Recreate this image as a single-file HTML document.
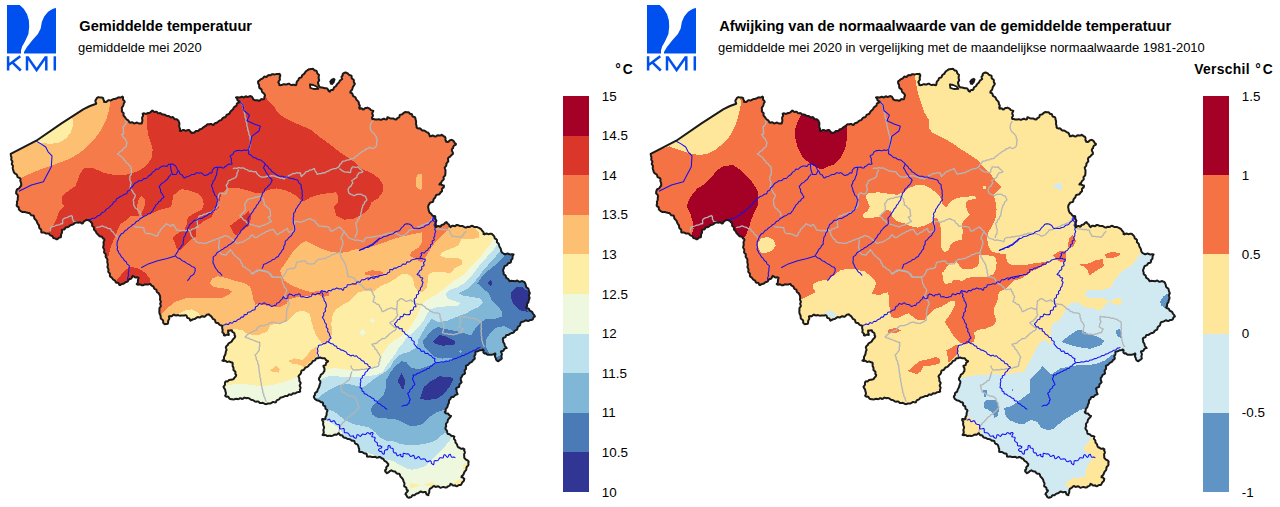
<!DOCTYPE html>
<html><head><meta charset="utf-8"><title>KMI</title>
<style>
html,body{margin:0;padding:0;background:#fff;}
body{width:1280px;height:507px;overflow:hidden;font-family:"Liberation Sans",sans-serif;}
svg{display:block;font-family:"Liberation Sans",sans-serif;}
text{fill:#000;}
</style></head><body>
<svg width="1280" height="507" viewBox="0 0 1280 507">
<defs>
<polygon id="ol" points="10.7,153.8 36.3,140.7 61.5,123.4 83.6,109.2 90,106 96.2,103.7 96,102.7 95.5,101.8 95.4,100.7 95.7,100 96.4,99.2 96.8,98.1 97.6,97.5 98.6,97.1 99.5,97.4 100.5,97.5 101.5,97.5 102.4,97.8 103.2,98.1 103.2,99.2 103.7,100.1 104.3,101 104,101.8 105,102 106,102.1 106.8,101.6 107.5,100.9 108.3,100.3 109.2,100.3 110.2,100.4 111.1,100.3 111.9,99.8 112.7,99.4 113.5,99.1 114.4,98.9 115.3,98.8 116.2,98.6 117,98.2 117.8,97.7 118.7,97.3 119.6,97.4 120.6,97.6 121.4,97.2 122.5,96.5 123.1,97.3 123,98.5 123,99.5 123.7,100.3 124.5,101.1 124.7,102.2 124.1,102.9 123.7,103.8 123.5,104.8 123.2,105.7 122.7,106.5 122,107.3 121.8,108.3 121.9,109.1 122.1,110 121.8,111.1 122.1,112 123.1,112.6 123.7,113.4 123.5,114.5 123.5,115.5 124.2,116.3 124.8,116.9 125.4,117.7 125.9,118.6 126.6,119.3 127.4,119.8 128.2,120.4 128.8,121.2 129.2,122.1 130.1,122.8 131,122.5 132,122.2 132.9,122.6 133.7,123.3 134.6,123.4 135.6,123 136.5,122.6 137.4,122.8 138.3,123.2 139.2,123.5 140.2,123.4 141.1,123.3 141.8,123.4 142,122.4 142.2,121.5 142.4,120.6 142.3,119.6 142.1,118.6 142.1,117.7 142.5,116.8 143.1,115.8 143,114.9 142.7,113.7 143.6,113.3 144.5,113.5 145.5,113.9 146.4,113.8 147.3,113.3 148.2,113 149,113 149.9,112.6 150.7,112.1 151.4,111.3 152.3,110.6 153.1,111 153.9,111.7 154.8,111.9 155.8,111.7 156.8,111.8 157.5,112.6 158.2,113.3 159.3,113.2 160.3,113 161.2,113.5 161.9,114.3 162.8,114.5 163.8,114.5 164.7,114.7 165.5,115.2 166.3,115.7 167.3,115.9 168.2,115.9 169.1,116.2 169.9,116.8 170.7,117.4 171.7,117.3 172.8,117.1 173.6,117.7 174.1,118.6 174.8,119.2 175.8,119.2 176.8,119.3 177.6,119.9 178.2,120.7 178.7,121 179,122 179.3,122.9 179.4,123.8 179.3,124.8 179.2,125.8 179.3,126.7 179.6,127.6 180,128.6 180,129.5 179.8,130.8 180.8,131 181.7,130.6 182.7,130 183.7,129.9 184.7,130.4 185.6,130.7 186.6,130.5 187.6,130.1 188.5,130 189.5,130.2 190,131.1 190.5,131.8 191.3,132.5 191.7,133.1 192.6,132.8 193.7,132.8 194.6,132.4 195.2,131.5 195.9,130.9 197,131 198.1,131.1 198.8,130.3 199.5,129.5 200.3,129.2 201.4,129 202.2,128.5 202.8,127.7 203.6,127.1 204.4,126.7 205.3,126.2 206.1,125.6 206.7,124.8 207.5,124.3 208.3,124.2 209.3,124.4 210.3,124 211.3,123.9 212.2,124.6 213.4,125.1 214,124.4 214.5,123.5 215.3,123 216.3,122.9 217.2,122.5 217.9,121.9 218.6,121.2 219.3,120.7 220.2,120.4 221.1,120.1 221.8,119.5 222.3,118.6 222.9,117.9 223.8,117.5 224.8,117.3 225.6,116.9 226.1,115.9 226.5,115 227.2,114.4 228.2,114.2 229.2,113.8 229.7,113.1 230.1,112.2 230.6,111.4 231.2,110.8 231.9,110.2 232.6,109.5 233.2,108.8 233.6,108 234.1,107.2 234.8,106.6 235.8,106.2 236.4,105.5 236.7,104.5 236.9,103.5 237.7,103 238.7,102.7 239.5,101.5 238.4,101 237.6,100.3 237.2,99.2 236.8,98.2 236,97.5 236.9,97.3 237.8,97.2 238.8,97.4 239.7,97.5 240.6,97.1 241.6,96.7 242.5,96.9 243.5,97.4 244.4,97.2 245.3,96.4 246.2,96.3 247.2,96.9 248.1,97 249,96.5 249.9,96.1 250.9,96.3 251.7,96.4 252.2,97.4 252.9,98.3 253.3,99.3 254.2,99.9 255.2,100.3 256.4,100.2 257.2,100.3 258.2,100.5 259.2,100.8 260.1,100.3 260.8,99.5 261.7,99.1 262.7,99.2 263.9,99.2 264.2,98.3 264.4,97.3 264.6,96.3 265.1,95.6 264.7,94.7 264.2,93.8 263.5,93.1 262.7,92.5 262.1,91.8 261.8,90.8 261.6,89.8 261.1,89 260.1,88.5 259.4,87.9 259.1,86.9 259.2,86 259.1,85 258.6,84.1 258.1,83.2 258.1,82.3 258.1,81.4 259,80.9 259.7,80.2 260.4,79.5 261.2,79 262.1,78.7 263,78.2 263.6,77.3 264.3,76.6 265.3,76.7 266.4,76.9 267.2,76.4 267.9,75.4 268.7,75.1 269.8,75.3 270.7,75.2 271.5,74.5 272.4,74.2 273.3,74.3 274.2,74.4 275.1,74.4 276.1,74.1 276.9,73.9 277.9,74 278.8,74.3 279.5,73.9 280.3,75 280.2,76.2 279.7,77.2 279.7,78.3 279.9,79.4 279.6,80.3 278.8,81.1 278.3,82.2 278.9,83.1 279.3,84.1 279.4,85.1 280.4,85.2 281.4,85.1 282.4,84.7 283.3,84.3 284.3,84.2 285.4,84.5 286.4,84.6 287.3,84.1 288.3,83.7 289.3,83.8 290.2,84.5 291.1,85 292,84.9 293.1,84.7 294,84.7 294.9,85 296,85.2 296.4,84.3 296.5,83.3 296.6,82.3 297.1,81.4 297.7,80.7 298.4,80.1 298.7,79 299.1,78.1 300.1,77.7 301.2,77.5 301.8,76.7 302,75.6 302.5,74.8 303.4,74.4 304.2,73.9 304.7,73.1 305.1,72.3 305.7,71.6 306.4,71 307.1,70.5 308,69.9 308.8,69.2 309.9,69.2 310.8,69.1 311.9,69 312.9,68.8 313.8,69.6 314.5,70.5 315.4,70.4 316.4,70.9 316.9,71.7 317.1,72.7 317.5,73.6 318.2,74.2 319,75 318.9,75.9 318.7,76.8 318.6,77.8 318.7,78.7 319.1,79.6 319.1,80.5 318.6,81.4 318,82.3 318,83.3 318.5,84.3 318.3,84.8 318.9,85.7 319.4,86.7 320.2,87.2 321.2,87.5 322.1,87.5 323.1,87.7 323.9,88.1 324.8,88.3 325.8,88.3 326.8,88.3 327.6,89 328.2,90 328.7,91 329.9,91.6 330.3,90.6 331.2,90 332.3,90 333.4,89.5 333.7,88.6 333.9,87.6 334.6,87 335.4,86.5 336.1,85.9 336.6,85.1 337,84.3 337.6,83.6 338.4,83 339.2,82.2 339.6,81.2 340.1,80.3 341.1,79.8 342.2,79 341.8,78 341.5,76.9 342.1,76.1 342.8,75.2 342.6,74.4 343.1,73.5 343.9,73 344.9,72.8 345.5,72.5 346.4,72.8 347.2,73.2 348,73.7 348.7,74.4 349.4,75 350.3,75.3 351.4,75.6 351.7,76.7 351.6,77.9 352.2,78.8 353.3,79.4 353.9,80.3 353.8,81.6 354,82.7 354.8,83.5 354.6,84.5 354.1,85.3 353.4,86.1 352.9,87 352.6,87.9 352.4,88.9 352,89.8 351.4,90.6 350.6,91.3 350.3,92.6 351.3,93 352.2,93.4 352.6,94.3 352.8,95.4 353.3,96.2 354.2,96.6 355.1,97.1 355.7,97.9 356,98.8 356.5,99.7 357.2,100.4 357.9,101.1 358.5,101.9 358.9,102.8 358.8,103.8 359.2,104.6 359.8,105.5 359.7,106.4 359.2,107.4 359.6,108.8 360.9,108.3 361.9,108.5 363,109.5 363.9,109.2 364.7,108.4 365.6,108 366.7,107.9 367.5,107.6 368.5,108.1 369.4,108.5 370.2,109.3 370.9,110.1 371.9,110.4 373.3,111 372.9,112 372.2,113 372.3,114 372.9,115 372.9,116 372.2,117 372,118 372.3,119 373.4,118.9 374.4,119.2 375.4,119.5 376.4,119.6 377.5,119.5 378.4,119.3 379.3,119.3 380.2,119.7 381.1,119.8 382,119.5 382.9,119 383.8,118.7 384.7,119 385.6,119.5 386.9,119.3 387.4,117.2 388.3,117.4 389.2,117.9 390.1,118.2 391.1,118.4 392.1,118.4 393,118.4 394,118.8 394.9,119.3 395.8,119.5 396.7,119.3 397,118.3 398,117.8 399.1,117.4 399.5,116.5 399.7,115.2 400.5,114.7 401.6,114.6 402.5,114.2 403.1,113.5 403.8,112.8 404.7,112.3 405.5,112 406.4,112.2 407.5,112.2 408.5,112.3 409.3,112.9 409.8,113.7 410.9,114 411.9,114.3 412.2,115.3 412.6,116.4 413.4,116.8 414.6,117 415.2,117.7 415.5,118.6 415.5,119.6 415.9,120.5 416.1,121.5 416.1,122.5 416,123.5 416.1,124.4 416.4,125.4 416.7,126.3 416.5,127.2 417.2,128.1 418.1,128.4 419.2,128.3 420.3,128.4 421,129.1 421.7,130.1 422.6,130.5 423.6,130.5 424.7,130.7 425.5,131.3 426.4,132 427.3,132.5 428.3,132.8 429,133.8 429.4,134.9 429.9,136.3 430.8,136.3 431.7,135.9 432.6,135.5 433.5,135.7 434.4,136.3 435.3,136.5 436.2,136.2 437.1,135.5 438,135.3 439,135.5 439.9,135.5 440.8,135.2 441.8,134.8 442.6,135.3 443.3,135.9 444,136.5 444.9,136.8 445.4,137.6 445.6,138.6 445.4,139.6 445.6,140.6 446.5,141.3 446.3,141.8 447.5,142 448.6,141.8 449.2,140.9 450,140.2 451.1,140.1 451.8,139.8 452.6,140.3 453.4,140.9 454,141.7 454.5,142.6 455.1,143.3 456,144 455.5,144.9 454.5,145.4 453.6,146 453.2,147 453.1,148.2 452.3,148.7 451.9,149.7 451.8,150.6 452.3,151.5 452.8,152.3 452.9,153.2 452.8,154.2 451.9,154.7 451.1,155.4 450.5,156.2 449.7,156.9 448.8,157.4 448.2,158.2 448,159.2 448.2,160.2 448.3,161.2 447.8,162.1 447,162.8 446.4,163.6 446.4,164.8 446.2,165.9 445.5,166.7 444.7,167.6 444.9,168.5 445.2,169.4 445.5,170.3 445.5,171.2 445.4,172.2 445.5,173 445.3,174 445.3,175 444.9,175.8 444,176.5 443.5,177.3 443.7,178.4 443.7,179.4 442.9,180.2 442.2,180.7 441.6,181.7 441.1,182.8 440.2,183.4 439.4,184.4 440.3,184.5 441.3,184.6 442.2,185 443.1,185.6 443.9,185.6 443.9,186.7 443.6,187.6 442.6,188.2 441.9,189 442,190.1 442,191.2 441.2,191.9 440.3,192.6 440.1,193.4 439.3,194.2 438.3,194.6 437.2,194.7 436.1,195.1 435.7,196 435.5,196.9 435,197.8 434.3,198.5 433.6,199.2 433.4,200.1 433.3,201.2 432.6,202 431.5,202.3 430.4,202.5 429.7,203.2 429.2,204.2 428.7,204.7 428.5,205.6 428.2,206.5 428.2,207.5 428.4,208.4 428.6,209.3 428.6,210.1 429,211 429.3,212 429.8,212.8 430.7,213.4 431.2,213.9 431.9,214.8 432.6,215.8 433.8,215.9 435.2,216.2 435.3,217.3 435.2,218.5 435.7,219.5 436.4,220.5 436.2,221.4 435.9,222.3 435.7,223.2 435.8,224.1 435.9,225 435.6,225.9 435.4,227.1 436.4,227 437.2,226.3 438.1,225.9 439.1,226.3 440.1,226.7 441,226.1 441.4,225.1 442.4,224.7 443.4,224.6 444.2,224 444.8,223.1 445.6,222.5 446.5,222.1 447,223 447.8,223.7 448.6,224.3 449.2,225.1 449.6,226.2 450.5,227.2 451.3,226.5 452.1,225.8 453,225.8 454.1,226.1 455,226.2 455.8,225.6 456.7,224.9 457.7,225 458.5,225.4 459.4,225.8 460.3,225.9 461.3,225.9 462.3,225.9 463.2,226.3 464.1,226.9 465.1,227.5 466.2,227.6 467,226.9 468,226.7 469.1,226.9 470.1,226.8 470.9,226.1 472,225.8 472.9,226.1 473.8,226.8 474.8,227.1 475.8,227 476.9,227 477.8,227.4 478.7,227.7 479.5,228.3 480.5,228.7 481.3,229.3 481.8,230.3 482.3,230.9 483.2,231.8 483.7,232.7 483.5,234.1 484.5,234.4 485.4,233.9 486.4,233.5 487.4,233.8 488.3,234.2 489.3,234 490.3,233.8 491.2,233.8 492.1,234 492.6,234.8 493.4,235.4 494.1,236.1 494.5,237 494.6,238.1 495.3,238.8 496.4,239.2 497,240.1 496.9,241.3 497,242.3 497.9,243 498.7,243.8 499,244.7 499.2,245.7 499.5,246.7 500,247.5 500.5,248.3 500.9,249.2 501.1,250.1 501.2,251.1 501.6,251.9 502.3,252.7 502.5,253.1 503.4,253.4 504.3,254 505.2,254.3 506.1,254.1 507.1,253.6 508,253.6 508.9,254 509.8,254.4 510.7,254.4 511.7,254.2 512.6,254.2 513.6,254.4 513.1,255.3 512.7,256.1 512.5,257 512.6,258.1 512.3,258.9 511.5,259.7 510.9,260.4 511.1,261.4 510.6,262.5 509.7,262.9 508.5,263 507.8,263.7 507.3,264.7 506.5,265.4 505.5,265.7 504.7,266.2 504.1,267 504,267.9 503.6,268.8 503.2,269.6 503.1,270.6 503.2,271.4 503.7,272.4 503.6,273.7 504.1,274.6 505.2,275.2 505.8,275.9 505.9,277 506.3,277.9 507.2,278.3 508,278.8 508.6,279.5 509,280.4 509.6,281.2 510.6,281 511.6,280.8 512.6,280.9 513.7,281.1 514.7,281.3 515.7,281 516.8,280.6 517.7,280.8 518.6,281.5 519.6,281.8 520.6,281.5 521.7,281.1 522.7,281.3 523.6,281.8 524.4,281.9 524.8,282.8 525.3,283.7 525.7,284.6 525.9,285.6 526,286.7 526.7,287.5 527.6,288.1 528.4,288.7 528.7,289.7 528.8,290.5 528.9,291.5 529.6,292.4 529.8,293.4 529.3,294.4 528.9,295.3 529.1,296.3 529.5,297.3 529.5,298.2 529.2,299.2 528.8,300 528.6,300.9 528.5,301.9 528,302.8 527.3,303.5 527,304.4 527.1,305.4 527,306.4 526.1,307.2 526.5,308.1 527.5,308.4 528.6,308.6 529.2,309.4 529.5,310.4 530.2,311 531.2,311.3 532,311.8 532.5,312.6 532.9,313.5 533.4,314.2 534,314.9 534.6,315.6 534.9,316.5 534,316.9 533.4,317.6 533.1,318.7 532.6,319.5 531.6,319.9 530.9,320 530,320.1 529,320.7 528.1,320.9 527.1,320.7 526.1,320.3 525.2,320.6 524.3,321.1 523.4,321.5 522.5,321.8 521.4,322 520.8,322.7 520.4,323.5 520.2,324.5 519.9,325.4 519.1,326.1 518.2,326.6 517.6,327.3 517.5,328.4 517.2,329.4 516.5,329.9 515.5,330.3 514.7,330.8 514.2,331.6 513.7,332.4 512.8,332.9 511.8,333.1 510.9,333.3 510,333.8 509.2,334.5 508.4,334.9 507.3,334.9 506.2,335.2 505.9,336.2 505.5,337.2 504.6,337.6 503.5,337.8 502.9,338.5 502.8,339.3 503.2,340.2 503.1,341.2 503.3,342.2 503.9,343 504.4,343.8 504.6,344.8 504.8,345.8 505.7,346.8 506.6,348.1 505.5,348.4 504.5,348.7 503.9,349.7 503.4,350.7 502.4,351 501,351.5 501.2,352.5 501.8,353.5 501.9,354.5 501.6,355.5 501.4,356.5 501.6,357.5 501.8,358.6 501,359.3 500.1,359.9 499.1,360.4 498.6,361.2 497.5,361 496.7,360.5 496.2,359.6 495.9,359 495.8,358 495.1,356.9 494.9,355.9 495.4,354.8 495.3,353.5 494.4,353.8 493.6,354.3 492.6,354.6 491.7,354.7 490.7,354.7 489.9,354.8 488.9,354.8 487.9,354.8 487,354.4 486.2,353.7 485.4,353.2 484.2,353.4 483.4,352.6 483.4,351.5 483.6,350.3 482.7,349.4 481.9,350.1 481,350.3 480,350.2 479.1,350.5 478.3,351 477.4,351.4 476.5,351.5 475.4,351.8 475.3,352.8 475.5,353.8 475.3,354.8 474.5,355.7 474.3,356.7 474.8,357.8 474.7,358.8 474,359.5 473.1,359.9 472.6,360.8 472.1,361.7 471.3,362.1 470.4,362.5 469.7,363 469.1,363.7 468.4,364.4 467.7,365 466.9,365.4 465.9,365.9 465.9,366.9 466.1,367.8 466,368.8 465.4,369.6 464.7,370.3 464.6,371.2 464.9,372.2 465,373.4 464.1,374.1 463.1,374.6 462.4,375.3 462,376.3 461.5,377.2 460.8,377.9 460.8,378.9 460.8,380 461.1,381 461.6,382.1 461,383 460.1,383.7 459.4,384.5 459.3,385.6 459.1,386.9 458.3,387.3 457.2,387.5 456.4,388.1 456,389 456.6,389.9 456.6,391 456.7,392.1 457.1,393 457.6,394.1 456.7,394.6 455.7,394.9 454.9,395.3 454.2,396.2 453.6,396.9 452.5,397 451.4,397.1 450.8,398 450.5,398.8 449.9,399.6 449.1,400.3 448.9,401.2 449,402.2 448.8,403.1 448.3,403.9 447.9,404.8 447.7,405.7 447.5,406.7 447.1,407.6 446.3,408.3 445.7,409.2 445.7,410.2 445.6,411.3 444.8,411.9 445.2,412.9 446.1,413.4 447.1,413.4 448.1,413.6 448.7,414.4 449.3,415.2 450.1,415.7 451,416 450.5,416.9 449.9,417.6 449.2,418.3 448.5,419 448,419.8 447.7,420.8 447.6,421.8 447,422.6 446.2,423.4 445.9,424.3 446.1,425.5 446.2,426.5 445.6,427.2 445.4,428.3 445.7,429.2 446.4,430 446.9,430.8 447.2,431.8 447.3,432.7 447.6,433.7 448.6,434.1 449.6,434.3 450.4,434.9 451.2,435.7 452.1,436.1 453.2,436 454.4,436.7 453.9,437.9 454,439 454.9,439.9 455.4,440.7 455.4,441.7 455.6,442.7 456.3,443.4 456.9,444.1 457.2,445 457.4,446 457.9,446.8 458.4,447.5 459.4,447.6 460.2,448.2 461,448.8 462,448.8 463,448.5 463.9,448.9 464.4,449.5 464.1,450.4 464.6,451.3 464.9,452.3 464.7,453.2 464.2,454 464.1,454.9 464.2,455.9 464.3,456.8 464.2,457.6 464.8,458.4 465.4,459.1 466.1,459.7 467.1,460.1 467.9,460.6 468.5,461.4 468.7,461.9 468.3,462.8 468.4,463.8 468.5,464.8 468.1,465.6 467.4,466.3 466.7,467 466.4,467.9 466.4,468.9 466.2,469.8 465.6,470.6 464.9,471.3 464.4,472.1 464,473 463.7,474 463.3,474.8 462.5,475.5 461.7,476.1 461.5,477.3 462.6,477.3 463.4,477.8 463.8,478.8 464.3,478.8 464.1,479.9 463.9,480.9 463.2,481.6 462.4,482.2 461.9,483.1 461.5,484 460.9,484.9 459.9,485 458.9,485.1 457.9,485.6 457,486.2 455.9,486.1 455.1,485.3 453.9,485.4 452.7,485.5 451.9,484.5 450.6,483.8 450.1,484.8 449.6,485.7 448.7,486.1 447.7,486.5 447.1,487.2 446.2,487.4 445.3,487.5 444.4,487.3 443.5,487.1 442.6,487.1 441.7,487.4 440.7,487.7 439.8,487.4 439,486.7 438.1,486.3 437.2,486.5 436.1,486.9 435.2,486.7 434.4,486.1 433.3,486.3 432.6,486.9 431.8,487.7 431,488.3 430,488.6 429.6,489.6 429.3,490.5 429.3,491.6 429.2,492.6 428.8,493.6 428,494.4 428.4,495.2 427.4,494.8 426.4,494.3 426.1,493.3 425.7,492 424.6,491.9 423.6,492.3 422.6,492.3 421.6,491.8 420.5,491.5 419.7,492.1 418.9,492.8 417.9,493.2 416.9,493.4 416,493.8 415.3,494.6 414.5,495.3 413.4,495.2 412.4,495.3 411.8,496.1 411.3,497.1 410.4,497.4 409.3,497.3 408.9,497.8 407.8,497.4 407.1,496.7 406.7,495.8 406.2,494.9 405.4,494.3 405.8,493.4 406.3,492.7 407,492.1 407.6,491.4 407.9,490.5 406.9,490 406.5,489.1 406.4,487.9 405.8,487.2 404.6,486.7 404.1,485.9 404.3,484.9 404.5,483.9 404.4,483 403.9,482.2 403.5,481.3 403.4,480.5 403,479.6 402.5,478.7 401.9,478 401.2,477.3 400.5,476.6 400.1,475.7 399.9,474.7 399.3,473.7 398.2,473.7 397.2,473.7 396.4,473.2 395.8,472.2 395.1,471.6 394.1,471.4 393.1,471.3 392.2,470.9 391.5,470.3 390.6,470.7 389.8,471.2 389.1,471.9 388.3,472.5 387.3,472.9 386.8,473.3 386.1,472.3 385.2,471.5 385.1,470.2 386.1,469.6 386.3,468.6 386.2,467.4 386.8,466.6 387.7,465.9 388.2,465 388.3,464.1 387.6,463.5 387,462.7 386.4,461.9 385.5,461.4 384.6,460.9 384,460.1 383.6,459.2 382.8,458.6 381.7,458.4 381.2,457.9 380.1,457.1 379,457 377.9,457.6 376.8,457.7 375.9,457.1 374.9,456.8 373.9,457 373,457.1 372,457 371.1,456.8 370.2,456.6 369.2,456.6 368.2,456.8 367,456.6 366.9,455.4 366.7,454.1 365.7,453.4 364.7,453.6 363.8,453.2 363,452.5 362.2,452 361.2,452 360.3,452.1 359.1,451.8 359.2,450.9 359.2,449.9 359.2,449 358.9,448.1 358.6,447.2 358.4,446.4 358,445.4 357.5,444.5 356.7,444 355.6,443.7 354.9,443.1 354.6,441.9 354.2,441 353.1,440.6 352.1,440.8 351.3,440.3 350.5,439.6 349.7,439.2 348.8,439.1 347.8,439 347,438.6 346.2,438.1 345.3,437.8 344.3,437.7 343.4,437.3 342.9,436.4 342.3,435.5 341.3,435.3 340.2,435.2 339.6,434.3 338.8,433.2 337.9,433.6 337.2,434.4 336.4,434.7 335.4,434.6 334.4,434.7 333.6,435.1 332.8,435.6 331.9,435.9 331,435.9 330,435.7 329,435.8 328,436 327,435.9 326.1,435.2 325.1,434.9 324.1,435.3 322.6,435.1 322.9,434.2 323.6,433.2 323.8,432.3 323.6,431.3 323.4,430.2 323.5,429.3 323.9,428.3 324.1,427.3 323.8,426.3 323.4,425.4 323.1,424.4 323.1,423.4 323.3,422.3 323,421.3 322.2,420.4 322.2,418.9 323.4,419.1 324.6,419.4 325.6,418.6 325.4,417.6 325.7,416.6 326.3,415.7 326.6,414.7 326.6,413.7 326.7,412.7 327,411.8 327.5,410.7 327,409.9 326.2,409.3 325.5,408.7 325.3,407.7 325.3,406.7 324.7,406 323.6,405.6 323.1,404.9 323.1,403.8 322.9,402.8 322,402.2 321,402.2 320.2,401.6 319.4,401 318.4,400.6 317.4,400.5 316.5,400.1 315.7,399.5 315.1,399.1 314.4,398.1 313.8,397 314.1,395.9 314.9,395.3 314.9,394.2 315,393.2 315.7,392.5 316.7,392 317.3,391.3 317.5,390.3 317.8,389.4 318.2,388.6 318.7,387.8 319.1,387 319.4,386.2 319.6,385.3 319.7,384.4 320.1,383.6 320.3,382.7 320.4,381.7 320,380.9 319.3,380.1 318.9,379.2 319.1,378.2 319.4,377.5 320.1,376.9 320.4,375.9 320.7,375 321.4,374.3 322.2,373.8 322.9,373.2 323.4,372.5 323.9,371.6 324.4,371 324.4,370.1 324.5,369.1 324.4,368.1 323.8,367.3 323.4,366 324.5,365.5 325.6,365.1 325.9,363.9 326.1,362.8 327,362.2 328.1,361.2 327.1,360.7 326,360.1 325.4,359.2 324.6,358.2 323.7,358.2 322.8,358.3 321.9,358.2 321,357.8 320.1,357.5 319.2,357.8 318.6,358 317.6,358.3 316.5,358.3 315.7,358.9 315.3,360 314.6,360.6 313.6,360.8 312.7,361.2 312.2,362.1 311.7,362.9 311,363.6 310.1,364.1 309.4,364.7 308.8,365.5 308.1,366.2 307.4,366.9 306.4,367.2 305.4,367.5 304.8,368.3 304.3,369.3 303.6,370 302.5,370.2 301.6,370.7 301.2,371.6 301.1,372.6 300.8,373.5 300.2,374.2 299.5,374.9 298.9,375.6 298.5,376.5 298.9,377.4 299.2,378.2 299.4,379.2 299.3,380.2 299.4,381.1 300,381.9 300.7,382.8 300.5,383.8 299.9,384.7 299.7,385.7 300.2,386.7 300.6,387.6 300.4,388.6 299.9,389.6 300,390.5 300.2,391.6 299.3,391.9 298.3,392.1 297.3,392.2 296.4,392.6 295.6,393.2 294.6,393.4 293.6,393.2 292.6,393.5 291.9,394.4 291,394.9 289.8,394.5 288.9,394.5 288.2,395.2 287.4,395.9 286.5,396 285.5,395.9 284.6,396.2 283.9,396.7 283,397.1 282.1,397.3 281.2,397.4 280.3,397.7 279.7,398.6 279,399.4 278,399.8 277,400.1 276.4,401 275.8,402.3 274.8,402.4 273.8,402.1 272.7,402 271.9,402.6 271,403.2 270.1,403.4 269,403.4 268.1,403.5 267.1,403.8 266.2,404.2 265.2,404.1 264.4,403.7 263.5,403.2 262.7,402.8 261.7,402.9 260.6,403.1 259.7,402.9 259,402.1 258.2,401.4 257.2,401.4 256.2,401.7 255.2,401.6 254.4,401.1 253.6,400.4 252.7,400.1 251.7,399.9 250.8,399.6 250,399 249.2,398.4 248.2,398.1 247.3,398 246.4,398.3 245.5,397.9 244.5,397.6 243.7,398.1 242.9,398.8 241.9,398.9 241,398.3 240,398.2 239.1,398.8 238.2,399.2 237.2,398.9 236.2,398.8 235.3,399 234.4,399.3 233.4,399.4 232.4,399.2 231.6,399.2 230.7,399 229.7,398.8 229.1,398.1 228.6,397.1 227.8,396.6 226.7,396.7 225.7,396.4 225.1,395.5 225.9,394.5 225.9,393.4 225.8,392.4 225.4,391.4 225.3,390.4 225,389.5 224.5,388.6 223.9,387.8 223.5,386.7 224.2,385.9 224.8,385.1 225,384.1 224.9,383 225.2,382 226,381.3 227,381.5 227.9,381.2 228.6,380.4 229.4,379.9 230.3,379.7 231.3,379.8 232.2,379.6 233.1,379.3 233.8,378.9 234.2,378 234.8,377.3 235.5,376.7 236,375.9 236.2,375 235.5,374.3 235.3,373.3 235.5,372.2 235.1,371.3 234.1,370.7 233.4,369.9 233.5,368.8 233.5,367.8 233.1,366.9 232.6,366.1 232.6,365.1 232.7,364.1 232.6,363.2 232.3,362.4 231.3,362.4 230.4,362 229.5,361.6 228.6,361.6 227.5,361.9 226.6,361.7 225.8,360.9 224.9,360.6 223.8,361.1 222.4,360.6 223.2,359.9 223.9,359.2 224,358.3 224,357.3 224.2,356.4 224.8,355.6 225.2,354.8 225.5,353.9 225.6,352.9 225.8,352.1 226,351.1 226.5,350.2 226.5,349.3 226.1,348.3 225.8,347.4 226.2,346.4 226.7,345.8 227.6,345.2 228.1,344.2 228.6,343.3 229.5,342.8 230.5,342.4 231.3,341.8 232,341 232.5,340.1 233.1,339.2 233.8,338.5 234.6,337.8 235,336.9 235.2,336.2 234.6,335.4 234.6,334.4 234.4,333.4 233.8,332.7 232.8,332.2 232.1,331.5 232,330.5 231,330.2 230,330.4 229,330.7 228.1,330.5 228.1,331.6 228.2,332.6 228.7,333.6 228.8,334.9 227.8,334.7 226.8,334.5 225.9,335 225,335.6 223.9,335.2 224.1,334 223.3,333.1 222.4,332.2 222.5,331 222.7,330 222.4,329 222.1,328 222.2,327 222.3,325.9 221.5,325.4 220.6,325.2 219.7,324.9 219,324.2 218.4,323.4 217.7,322.9 216.6,322.9 215.7,322.5 215.3,321.6 215.2,320.5 214.7,319.7 213.8,319.3 212.9,318.9 212.4,318.2 212,317.3 211.3,316.4 210.4,315.7 209.5,315.1 208.9,314.3 207.8,314.6 206.8,314.8 206,315.5 205.2,316.4 204.1,316.9 203.2,316.4 202.2,316.2 201.4,316.5 200.5,317.2 199.7,317.5 198.7,317.3 197.7,317.1 196.8,317.5 196,318.1 195.2,318.7 194.3,319 193.3,319.2 192.4,319.5 191.6,320.2 190.5,320.7 190,319.9 189.6,318.8 188.8,318.2 187.7,318 187,317.4 186.8,316.2 186.2,315.4 185.2,315.1 184.2,315.6 183.1,315.4 182,315.5 181,315.6 180,315.7 179,315.4 178.1,315.1 177.1,315.2 176.1,315.5 175.1,315.3 174,314.6 173.1,314.9 172.3,315.9 171.4,316.4 170.3,316.1 168.9,316.4 169.1,317.4 169.3,318.3 169.1,319.2 168.6,320 168.2,320.9 168.1,321.8 168.1,322.7 167.8,323.8 166.8,323.9 165.7,323.9 164.9,324.3 164.1,323.7 163.4,323.1 163.1,322.2 163.2,321.1 162.9,320.2 162.2,319.6 161.3,319 160.8,318.3 160.6,317.3 160.7,316.4 160.5,315.4 160,314.6 159.6,313.7 159.4,312.8 159.4,311.9 159.3,311.1 159.5,310.1 159.4,309.1 159.4,308.2 159.9,307.4 160.7,306.6 160.8,305.7 160.5,304.7 160.1,303.8 160.5,302.8 160.9,301.8 160.6,300.9 160.1,300 160,299 160.2,298 160.2,297.1 160,296.1 159.8,295.3 159.2,294.4 158.9,293.5 158.2,292.8 157.2,292.3 156.6,291.4 156.6,290.2 155.9,289.4 154.8,289.1 154.1,288.4 153.8,287.4 153.4,286.5 152.5,286.1 151.6,285.7 151,285 150.5,284.1 149.5,284.1 148.6,284.4 147.7,284.6 146.7,284.6 145.7,284.4 144.8,284.3 143.8,284.8 142.9,285.3 142,285.3 141.1,284.8 140.1,284.3 139.1,284.5 138,284.8 136.8,284.1 137.4,283.3 137.8,282.5 137.9,281.5 137.9,280.6 138,279.7 138.3,278.8 138.6,277.8 137.8,277.4 136.8,277.3 135.8,277.4 134.8,277.2 134,276.6 132.8,275.9 132.2,276.6 131.8,277.7 131.3,278.5 130.4,278.9 129.4,279.1 128.7,279.8 128.2,280.6 127.7,281.4 126.8,281.9 125.8,282.1 125,282.6 124.2,283.3 123.3,283.8 122.2,284 121.2,284.2 120.4,285.1 119.4,284.9 118.9,284 118.5,283 117.5,282.7 116.4,282.7 115.6,282 115.3,281 114.7,280.3 113.7,279.9 113,279.3 112.4,278.5 111.9,277.7 111.1,277.1 110.2,276.6 109.9,275.7 109.9,274.7 109.9,273.7 109.3,272.9 108.5,272.2 108.2,271.3 108.5,270.2 108.5,269.4 108.1,268.4 107.5,267.5 107.5,266.6 107.8,265.6 107.9,264.6 107.7,263.7 107.4,262.8 107.3,261.8 107.3,260.9 107.5,259.8 107.2,258.9 106.6,258.1 105.9,257.3 105.6,256.4 105.8,255.3 105.8,254.3 105.1,253.6 104.3,252.8 104,251.9 104.2,250.9 104.3,249.9 104,249 103.5,248.2 103.1,247.3 103.3,246.3 103.6,245.4 103.7,244.4 103.6,243.4 103.5,242.4 103.7,241.5 104.3,240.6 104.4,239.6 104,238.8 103,238.6 102.5,237.6 102,236.7 101.1,236.5 100,236.4 99.2,235.9 98.7,235.1 98,234.6 97.3,233.9 96.6,233.2 96.2,232.4 95.8,231.5 95.2,230.7 94.4,230.1 93.9,229.2 94,228.2 93.9,227.2 93,226.5 92.2,225.9 92.1,224.9 92.3,223.7 91.8,222.9 90.9,222.2 90.6,221.6 89.8,221 89,220.5 88.2,220.2 87.2,220.1 86.5,219.8 85.7,220.4 84.8,220.8 84,221.3 83.5,222.1 83,223 81.9,223.6 81.1,222.9 80.3,222.3 79.2,222.4 78.2,222.7 77.5,222.5 76.4,222.6 75.4,222.7 74.6,223.2 73.8,223.9 73,224.4 72.1,224.8 71.1,225 70.2,225.4 69.4,226 68.8,226.7 68,227.1 67,227.2 66,227.3 65.3,228 64.8,229 64.1,229.6 63.1,229.6 61.9,229.9 61.9,230.8 62.1,231.8 62,232.7 61.5,233.6 61.1,234.4 61,235.3 61,236.2 60.8,237.2 59.7,237.4 58.7,237.8 58,238.6 57.1,239.3 56.1,239.2 55.5,238.4 54.3,238.3 53.3,238 52.9,236.9 52.3,236 51.3,235.7 50.3,235.4 49.6,234.6 48.9,233.7 48,233.6 47.1,233.6 46.2,233.5 45.3,233.2 44.5,232.7 43.6,232.4 42.7,232.6 41.4,232.5 41.2,231.6 41.3,230.5 41.1,229.5 40.3,228.9 39.5,228.2 39.1,227.4 39.1,226.3 39,225.4 38.4,224.6 37.8,223.8 37.3,223 37,222.1 36.7,221.2 36.3,220.4 35.6,219.7 34.9,219 34.3,218.3 34.1,217.3 34,216.2 33.3,215.4 32.2,215.4 31.3,215.3 30.6,214.6 30.1,213.7 29.4,213.1 28.4,213 27.6,212.8 26.7,212.6 25.8,212.3 25,212 24.1,211.9 23.1,212 22.2,211.9 21.4,211.5 20.8,211.2 20.1,210.5 19.2,209.9 18.8,209 18.9,207.9 18.4,207 17.4,206.5 16.7,205.8 16.7,204.7 17.1,203.8 17,202.7 16.9,201.7 17.3,200.8 17.7,199.8 17.8,198.8 17.7,197.8 18,196.9 17.9,195.8 17.6,194.8 16.8,194.1 16.1,193.3 16.2,192.2 16.2,191.7 16.6,190.7 16.9,189.6 17.6,189 18.6,188.6 19.4,188 20,187.2 20.5,186.3 21.2,185.7 21.2,184.8 21.2,183.9 21.1,183 20.8,182.1 20.4,181.2 20.3,180.3 20.6,179.3 20.2,178.3 19.4,177.8 18.3,177.5 17.5,176.9 17.2,175.8 16.9,174.8 16.2,174.2 15.3,173.7 14.5,173.1 14,172.3 13.5,171.5 13.4,170.5 13.1,169.6 12.8,168.7 12.7,167.8 12.9,166.8 12.9,165.8 12.4,165 11.8,164.1 11.9,163.2 12.4,162.1 12.3,161.2 11.5,160.3 11.2,159.4 11.4,158.5 11.5,157.5 11.2,156.6 10.9,155.7 10.8,154.7"/>
<clipPath id="be"><use href="#ol"/></clipPath>
<g id="overlay">
<polyline points="125.4,119.4 125.51,120.42 125.84,121.39 126.32,122.34 126.1,123.32 125.32,123.98 125.04,125.06 124.47,125.9 123.54,126.43 122.84,127.32 123.19,128.19 123.35,129.08 123.33,130 123.35,130.91 123.54,131.8 123.8,132.69 123.83,133.7 122.59,133.82 121.44,134.45 122.34,135.03 122.88,135.89 123.15,136.97 123.78,137.76 124.75,138.31 125.32,139.03 125.58,139.95 125.87,140.84 126.42,141.58 127.07,142.31 126.91,143.3 126.59,144.25 126.29,145.2 126.17,146.17 125.62,146.96 124.98,147.65 124.14,148.14 123.33,148.67 122.83,149.5 122.39,150.45 121.53,150.95 120.48,151.2 119.7,151.81 119.16,152.72 118.42,153.37 117.46,153.86 118.19,154.51 119.08,154.95 119.91,155.46 120.63,156.14 121.35,156.81 122.2,157.3 122.98,157.97 123.46,158.88 123.89,159.82 124.78,160.4 125.62,161.01 125.92,162.08 126.49,162.94 127.53,163.32 128.31,163.97 128.75,164.96 129.47,165.68 130.37,166.21 131.08,166.99 131,168.01 131.11,169.01 131.35,169.99 131.41,170.99 131.26,172.01 131.38,172.95 131.33,174.09 130.82,175.05 130,175.88 129.79,176.96 129.81,177.91 129.91,178.97 129.87,180.07 130.3,181.03 130.83,181.96 131.09,183.02 130.73,183.99 130.51,184.98 130.44,186.01 130.34,187.03 130,188 130.43,188.93 131.11,189.67 131.99,190.26 132.61,191.04 132.87,192.08 133.21,192.98 133.97,193.62 134.74,194.25 135.13,195.12 135.38,195.93 134.91,196.72 134.64,197.61 134.28,198.46 133.77,199.22 133.21,200.01 133.33,200.91 133.6,201.79 133.81,202.68 133.74,203.6 133.61,204.53 133.91,205.41 134.31,206.09 134.9,206.9 135.28,207.92 136.1,208.5 137.1,208.9 137.67,209.73 138.15,210.65 138.96,211.24 139.8,211.8 140.42,212.6 140.5,213.62 140.8,214.6 141.04,215.59 141.2,216.6" fill="none" stroke="#b3b5b7" stroke-width="1.3" stroke-linejoin="round"/>
<polyline points="239.6,101.3 240.25,102.09 241.12,102.66 241.85,103.38 242.19,104.46 242.94,105.02 243.47,105.88 243.54,106.81 243.36,107.77 243.48,108.69 243.82,109.58 244.01,110.48 244.1,111.45 244.21,112.42 244.51,113.35 244.89,114.27 245.03,115.23 244.97,116.24 245.17,117.19 245.74,118.06 246.11,118.98 245.96,120.01 245.85,121 246.23,121.9 246.76,122.78 246.92,123.72 246.83,124.71 246.92,125.67 247.23,126.59 247.54,127.5 247.69,128.45 247.74,129.42 247.91,130.31 248.26,131.14 248.7,131.96 248.92,132.84 248.86,133.79 248.94,134.7 249.47,135.49 250.04,136.27 250.14,137.18 249.97,138.11 250.01,139.1 250.44,140.06 250.54,141.04 250.33,142.04 250.32,143.02 250.54,144.01 250.34,145.02 249.95,145.99 249.63,146.97 249.57,148.02 249.31,149.01 249,150" fill="none" stroke="#b3b5b7" stroke-width="1.3" stroke-linejoin="round"/>
<polyline points="232.8,168.6 233.74,168.51 234.64,168.17 235.58,168.11 236.57,168.43 237.49,168.2 238.4,167.69 239.34,167.72 240.28,168.01 241.22,168.05 242.16,167.87 243.15,167.8 244,168.34 244.85,168.89 245.78,169.26 246.77,169.52 247.65,170 248.41,170.74 249.37,171.25 250.31,171.01 251.24,170.88 252.11,171.23 252.97,171.71 253.87,171.83 254.81,171.63 255.88,171.65 256.39,172.54 256.88,173.44 257.56,174.19 258.31,174.88 258.94,175.61 259.9,176.29 260.9,176.9 261.98,177.17 262.92,176.9 263.93,177.06 264.93,177.15 265.84,176.67 266.76,176.16 267.69,176.27 268.63,176.53 269.52,176.34 270.38,175.9 271.28,175.76 272.21,175.87 273.06,175.82 274.05,176 275.01,176.24 275.91,176.69 276.81,177.11 277.82,177.24 278.75,177.32 279.58,177.82 280.43,178.28 281.41,178.17 282.39,178.11 283.2,178.68 284.29,179.18 284.89,178.38 285.51,177.61 286.43,177.28 287.34,176.92 288.04,176.26 288.75,175.6 289.75,175.22 290.77,174.88 291.68,174.33 292.57,173.71 293.6,173.4 294.53,173.53 295.42,173.29 296.27,172.81 297.17,172.67 298.12,172.95 299.04,173.05 299.84,172.63 300.56,173.47 300.79,174.51 300.94,175.59 301.57,176.57 302.12,175.78 302.77,175.08 303.52,174.49 304.27,173.9 304.91,173.19 305.44,172.38 306.13,171.62 307.1,171.5 308.07,171.37 308.87,170.83 309.6,170.11 310.49,169.78 311.53,169.81 312.46,169.59 313.22,168.94 314.3,168.49 314.61,169.37 314.88,170.26 315.35,171.04 315.92,171.77 316.4,172.55 316.74,173.41 317.23,174.34 318.19,173.99 319.13,173.59 320.17,173.62 321.21,173.7 322.13,173.15 323.06,172.67 324.13,172.9 325.24,172.87 325.94,172.03 326.8,171.49 327.85,171.33 328.76,170.89 329.56,170.23 330.47,169.79 331.42,169.48 332.32,169.26 333.18,168.88 334.07,168.63 335.03,168.65 335.95,168.55 336.78,168.02 337.45,167.71 338.35,167.14 339.18,166.51 339.48,165.49 339.85,164.51 340.68,163.88 341.48,163.24 341.95,162.34 342.46,161.37 343.4,161.17 344.35,161.05 345.28,160.82 346.16,160.45 347.04,160.06 347.98,159.89 348.97,159.87 349.89,159.64 350.72,159.06 351.58,158.59 352.57,158.6 353.69,158.64 354.36,158.01 354.85,157.15 355.49,156.48 356.35,156.08 357.19,155.67 357.87,155.04 358.49,154.34 359.18,153.74 359.96,153.25 360.75,152.76 361.43,152.16 362.12,151.51 362.89,151.01 363.83,150.79 364.71,150.47 365.33,149.72 365.96,148.98 366.89,148.75 367.88,148.62 368.58,147.99 369.37,147.17 370.29,147.58 371.15,148.16 372.13,148.37 373.03,148.51 373.88,147.97 374.76,147.48 375.52,146.82 376.15,146.18 376.37,145.29 376.74,144.43 376.75,143.51 376.5,142.57 376.68,141.68 377.24,140.83 377.35,139.82 376.57,139.03 376.24,138.09 376.31,137.02 375.98,136.08 375.42,135.28 374.74,134.62 374.19,133.82 373.56,133.11 372.81,132.52 372.06,131.93 371.44,131.2 370.97,130.47 370.78,129.52 370.3,128.61 370.05,127.66 370.26,126.64 370.31,125.85 370.48,124.77 370.64,123.68 371.32,122.85 371.91,121.97 372.3,121" fill="none" stroke="#b3b5b7" stroke-width="1.3" stroke-linejoin="round"/>
<polyline points="238.4,169.4 238.16,170.28 238.07,171.22 237.62,172.04 237.03,172.82 236.96,173.76 237,174.73 236.67,175.59 236.17,176.39 235.95,177.18 235.12,177.72 234.27,178.2 233.34,178.51 232.4,178.79 231.53,179.22 230.74,179.84 229.87,180.29 228.81,180.45 228.14,181.3 227.97,182.4 227.77,183.48 227.03,184.29 226.22,185.25 226.51,186.16 226.96,187.06 227.14,187.99 227.12,188.96 227.19,189.86 226.88,190.89 226.6,191.94 226.14,192.92 225.72,193.73 224.82,193.66 223.88,193.84 222.97,193.82 222.11,193.37 221.24,192.99 220.31,193.15 219.7,193.2 219.23,194.08 218.56,194.9 218.39,195.89 218.36,196.91 217.98,197.8 217.81,198.71 217.85,199.62 218.01,200.53 218.03,201.44 217.88,202.36 217.82,203.27 218.06,204.18 218.22,205.09 217.95,205.95 217.11,206.45 216.72,207.38 216.24,208.24 215.3,208.64 214.44,209.11 214.01,210.01 213.51,210.84 212.68,211.35 211.95,211.84 211.11,212.21 210.28,212.6 209.39,212.81 208.48,212.93 207.59,213.14 206.76,213.54 205.93,213.94 205.02,214.04 204.05,214.12 203.22,214.55 202.51,215.27 201.69,215.72 200.69,215.73 199.73,215.84 198.89,216.45 198.8,217.49 198.35,218.37 197.72,219.17 197.27,220.04 197,221 197.27,221.98 197.37,222.99 197.39,224.02 197.55,225.02 197.96,225.98 198.08,227.22 197.06,227.27 196.05,227.36 195.23,227.94 194.44,228.64 193.48,228.83 192.36,228.83 191.68,229.5 191.06,230.23 190.3,230.8" fill="none" stroke="#b3b5b7" stroke-width="1.3" stroke-linejoin="round"/>
<polyline points="245.5,210 245.28,209.03 245.07,208.06 245.29,207.02 245.2,206.03 244.72,205.1 244.55,204 245.24,203.33 245.84,202.6 246.28,201.77 246.69,200.92 247.21,200.14 247.82,199.46 248.74,199.34 249.61,198.96 250.44,198.49 251.35,198.3 252.34,198.42 253.28,198.35 254.11,197.83 254.92,197.27 255.85,197.14 256.84,197.26 257.76,197.12 258.6,196.67 259.46,196.28 260.45,196.15 260.99,196.89 261.61,197.55 262.33,198.11 263.05,198.67 263.67,199.39 263.58,200.49 263.81,201.54 264.35,202.54 264.36,203.62 264.18,204.95 264.98,205.42 265.95,205.7 266.61,206.34 267.04,207.23 267.71,207.85 268.58,208.24 269.31,208.79 269.87,209.5 269.91,210.41 270.13,211.3 270.36,212.19 270.37,213.1 270.31,214.02 270.53,214.91 270.83,215.99 269.96,216.42 268.93,216.62 268.2,217.48 269.2,217.97 269.65,218.9 269.98,219.93 270.82,220.56 271.61,221.5 270.75,221.8 269.86,222.07 269.1,222.55 268.39,223.13 267.62,223.6 266.78,223.94 265.96,224.27 265.1,224.66 264.28,225.18 263.39,225.45 262.4,225.44 261.47,225.62 260.69,226.24 259.9,226.83 258.86,226.94 258.09,226.31 257.22,226.02 256.25,226.04 255.33,225.93 254.49,225.54 253.66,225.11 252.79,224.83 251.87,224.68 250.97,224.5 249.8,224.06 248.71,223.56 247.85,223.06 246.91,222.66 246.2,221.97 245.69,221.03 244.93,220.41 243.87,220.13 243.1,219.51 242.7,218.54 242.13,217.72 241.25,217.22 240.46,216.62 239.9,215.8 240.67,215.19 241.28,214.44 241.88,213.67 242.62,213.04 243.44,212.49 244.04,211.71 244.62,210.93 245.5,210" fill="none" stroke="#b3b5b7" stroke-width="1.3" stroke-linejoin="round"/>
<polyline points="339.3,168.6 340.14,169.05 340.94,169.56 341.54,170.35 342.31,170.92 343.26,171.21 344.02,171.63 344.9,171.89 345.79,172.13 346.69,172.22 347.61,172.21 348.52,172.25 349.4,172.46 350.46,172.65 350.72,171.73 350.71,170.73 350.81,169.77 351.35,168.93 351.95,168.11 351.9,167.3 352.8,166.91 353.7,166.81 354.6,167.09 355.5,167.31 356.4,167.22 357.3,167.02 358.28,167.01 358.88,167.78 359.5,168.52 360.23,169.14 361.03,169.69 361.7,170.38 362.2,171.25 362.94,171.61 362.1,172.31 361.16,172.69 360.05,172.55 359.08,172.83 358.41,173.48 358.01,174.44 357.26,175.28 356.98,176.29 356.78,177.42 355.93,177.87 355.04,178.28 354.28,178.87 353.56,179.52 352.73,180.01 351.74,180.54 352.13,181.54 352.7,182.5 352.67,183.57 351.86,184.07 351.5,184.95 351.19,185.88 350.44,186.43 349.56,186.87 349.04,187.61 348.7,188.51 348.16,189.07 348.13,190.11 348.29,191.12 348.64,192.09 348.85,193.01 349.73,193.61 350.61,194.2 351.63,194.52 352.68,194.79 353.49,195.48 354.48,195.57 355.35,195.25 356.15,194.62 357.02,194.27 358,194.36 358.97,194.39 359.75,194.03 360.77,194.16 361.69,194.54 362.54,195.08 363.43,195.53 364.38,195.83 365.4,196.15 365.87,197.25 366.18,198.43 366.89,199.39 366.61,200.35 365.95,201.05 365.07,201.59 364.56,202.39 364.39,203.42 363.96,204.21 363.19,205.01 362.71,205.92 362.58,206.98 362.22,207.92 361.84,208.88 361.61,209.86 361.56,210.88 361.4,211.87 360.99,212.82 360.76,213.8 360.89,214.85 360.65,215.89 359.81,216.46 359.36,217.26 359.3,218.29 358.85,219.09 357.99,219.66 357.47,220.42 357.3,221.39 356.9,222.22 356.23,222.89 355.67,223.73 356.02,224.67 356.3,225.63 356.39,226.63 356.46,227.63 356.81,228.57 357.22,229.51 357.23,230.52 357.12,231.4 356.95,232.37 357,233.43 356.58,234.32 355.84,235.08 355.52,236.01 355.37,236.99 355,237.9" fill="none" stroke="#b3b5b7" stroke-width="1.3" stroke-linejoin="round"/>
<polyline points="50.5,231.5 50.4,230.53 50.43,229.55 50.71,228.57 50.56,227.74 51.43,227.1 52.41,226.7 53.44,226.45 54.43,226.09 55.28,225.74 56.12,225.36 57.01,225.14 57.95,225.1 58.86,224.96 59.67,224.48 60.46,223.92 61.36,223.74 62.48,223.73 62.78,222.79 62.59,221.78 62.5,220.77 62.86,219.85 63.16,219.06 64.01,218.67 64.81,218.16 65.67,217.78 66.59,217.55 67.49,217.31 68.33,216.89 69.13,216.37 70.02,216.08 71,216.02 71.6,215.55 72.27,216.41 72.54,217.37 72.31,218.46 72.58,219.42 73.28,220.27 73.33,221.13 74.26,221.69 75.29,221.76 76.31,221.86 77.3,222.1" fill="none" stroke="#b3b5b7" stroke-width="1.3" stroke-linejoin="round"/>
<polyline points="96.2,227.6 97.08,227.28 97.98,227.07 98.94,227.07 99.84,226.84 100.69,226.42 101.57,226.11 102.51,225.97 103.35,226.44 104.22,226.8 105.15,227.02 106.08,227.25 106.91,227.74 107.68,228.35 108.57,228.68 109.59,228.69 110.65,228.98 111,229.88 111.34,230.78 112.02,231.39 112.87,231.85 113.51,232.49 113.92,233.33 114.39,234.11 115.06,234.74 115.8,235.28 116.43,235.93 117,236.64 117.63,237.29 118.3,237.9" fill="none" stroke="#b3b5b7" stroke-width="1.3" stroke-linejoin="round"/>
<polyline points="134.1,226.8 135.05,226.79 135.98,226.9 136.91,227.18 137.85,227.25 138.8,227.16 139.75,227.17 140.68,227.33 141.61,227.54 142.55,227.63 143.57,227.58 143.98,228.46 144.06,229.43 144.03,230.43 144.38,231.32 145.05,232.12 145.14,232.79 145.99,233.28 146.86,233.64 147.79,233.54 148.72,233.36 149.62,233.53 150.49,233.86 151.35,234.01 152.33,234.28 153.27,234.6 154.14,235.12 155.01,235.63 155.99,235.87 156.7,236.19 157.35,235.52 158.05,234.87 158.29,233.96 158.39,232.98 159.01,232.29 159.83,231.71 160.16,230.86 160.26,229.88 160.78,229.08 161.69,228.62 162.35,227.9 162.89,227.07 163.6,226.4 164.4,225.82 165.08,225.13 165.63,224.31 166.46,223.6 167.11,224.29 167.85,224.81 168.8,224.98 169.68,225.26 170.31,226.01 171.52,225.77 172.37,224.8 173.7,224.29 173.86,225.25 174.24,226.1 174.86,226.8 175.44,227.54 175.84,228.37 176.18,229.23 176.69,230.1 177.6,230.1 178.52,230.08 179.41,230.24 180.28,230.6 181.17,230.83 182.1,230.69 182.96,230.49 183.87,230.46 184.82,230.74 185.74,230.78 186.61,230.39 187.47,229.99 188.38,229.95 189.22,230.03 189.49,230.95 189.96,231.8 190.39,232.66 190.65,233.59 190.85,234.53 191.18,235.43 191.68,236.22 192.39,236.87 192.82,237.77 193.32,238.6 194.21,239.07 195.08,239.56 195.48,240.49 195.87,241.42 196.72,241.93 197.43,242.34 198.38,242.65 199.33,242.98 200.32,242.92 201.31,242.88 202.28,243.09 203.24,243.31 204.22,243.31 205.14,243.25 206.1,243.06 207.09,242.94 207.9,242.37 208.69,241.73 209.7,241.67 210.72,241.67 211.51,241.03 212.3,240.36 213.31,240.27 214.33,240.2 215.18,239.68 216.02,239.15 216.96,238.89 217.93,238.68 218.79,238.32 219.61,237.85 220.45,237.45 221.38,237.24 222.31,237.07 223.13,236.62 223.88,235.97 224.74,235.61 225.64,235.61 226.51,236.28 227.65,236.41 228.72,236.67 229.55,237.41 230.36,238.06 231.15,238.57 231.96,239.05 232.67,239.65 233.29,240.36 233.93,241.04 234.67,241.61 235.48,242.09 236.21,242.67 236.82,243.47 237.77,243.44 238.61,243 239.42,242.42 240.35,242.29 241.36,242.48 242.27,242.3 243.04,241.71 243.75,241.09 244.68,240.83 245.56,240.5 246.27,239.88 246.98,239.26 247.8,238.84 248.66,238.46 249.46,237.94 249.9,237.03 250.52,236.24 251.36,235.62 251.73,234.79 252.77,235.11 253.41,235.91 253.92,236.89 254.9,237.28 255.53,237.63 256.48,237.38 257.41,237.11 258.08,236.43 258.76,235.76 259.61,235.36 260.48,234.99 261.24,234.44 261.96,233.82 262.86,233.38 263.86,233.13 264.76,232.7 265.52,231.97 266.4,231.48 267.48,231.41 268.4,231.09 269.22,230.36 270.12,229.85 271.19,229.87 272.22,229.77 273.06,229.23 273.79,229.89 274.29,230.72 274.72,231.6 275.25,232.4 275.89,233.12 276.55,233.84 276.96,234.64 277.85,234.36 278.68,233.97 279.34,233.31 279.99,232.61 280.84,232.26 281.83,232.15 282.67,231.77 283.27,230.94 283.94,230.21 284.86,229.89 285.81,229.6 286.56,229.01 287.39,228.37 287.76,229.34 287.99,230.37 288.34,231.36 288.79,232.21 289.71,232.03 290.68,232.13 291.63,232.13 292.52,231.67 293.42,231.32 294.47,231.5 294.75,230.57 294.38,229.65 294.08,228.72 294.38,227.79 294.65,226.86 294.43,225.94 294.24,225.01 294.36,224.08 294.51,223.15 294.44,222.23 294.41,221.2 295.42,221.37 296.41,221.69 297.44,221.69 298.49,221.51 299.48,221.83 300.45,222.31 301.51,222.13 302.23,221.4 303.19,221.22 304.21,221.18 305.03,220.69 305.77,220.01 306.64,219.63 307.59,219.43 308.48,219.1 309.3,218.6 310.3,218.88 311.23,219.33 312.13,219.87 313.1,220.22 314.24,220.38 314.88,221.02 315.24,221.9 315.61,222.78 316.31,223.37 317.2,223.8 317.86,224.42 318.22,225.31 318.78,226.25 319.74,226.21 320.71,226.05 321.66,226.11 322.6,226.34 323.54,226.51 324.5,226.51 325.46,226.45 326.41,226.54 327.34,226.85 328.13,226.91 328.9,227.53 329.59,228.2 329.83,229.16 330.08,230.13 330.83,230.75 331.24,231.23 332.13,230.93 333.1,230.75 333.84,230.2 334.49,229.5 335.3,229.06 336.18,228.74 336.97,228.29 337.69,227.69 338.45,227.18 339.26,226.84 339.85,227.59 340.7,228.08 341.49,228.64 341.92,229.56 342.43,230.38 343.39,230.76 344.27,231.3 344.53,232.35 344.97,233.27 345.86,233.85 346.57,234.58 346.96,235.53 347.49,236.38 348.22,237.09 348.84,237.8 349.7,238.23 350.55,238.68 351.48,238.94 352.46,239.05 353.36,239.38 354.14,240.03 355.1,240.5 356.05,240.15 357,239.85 357.95,240.08 358.82,240.44 359.79,240.72 360.86,240.72 361.84,240.99 362.73,241.5 363.81,241.84 364.1,240.83 364.35,239.81 364.77,238.85 365.22,238.03 366.12,237.95 366.99,237.6 367.86,237.28 368.79,237.35 369.74,237.61 370.63,237.47 371.47,236.94 372.4,236.63 373.41,236.83 374.39,236.88 375.3,236.48 376.22,236.13 377.19,236.1 378.17,236.09 379.11,235.86 380.03,235.56 380.98,235.44 381.92,235.36 382.79,235.09 383.58,234.54 384.45,234.23 385.44,234.35 386.35,234.17 387.1,233.47 387.93,233.07 388.89,233.22 389.86,233.47 390.89,233.18 391.88,233.21 392.84,233.59 393.83,233.71 394.83,233.64 395.82,233.71 396.77,233.96 397.67,234.4 398.67,234.61 399.62,234.93 400.42,235.62 401.28,236.15 402.24,236.2 402.9,235.53 403.85,235.32 404.81,235.13 405.51,234.52 406.06,233.78 406.69,233 407.54,232.39 408.23,231.65 408.75,230.77 409.38,229.9 410.33,229.8 411.3,229.78 412.24,229.64 413.15,229.29 413.99,228.99 414.96,228.72 415.99,228.57 416.82,228.04 417.51,227.22 418.35,226.71 419.41,226.62 420.38,226.35 421.13,225.66 421.93,225.02 422.85,224.78 423.79,224.61 424.66,224.25 425.49,223.77 426.35,223.38 427.28,223.16 428.21,222.94 429.03,222.46 429.7,221.96 430.37,221.27 431.22,220.7 431.61,219.82 431.87,218.86 432.52,218.15 433.1,217.4" fill="none" stroke="#b3b5b7" stroke-width="1.3" stroke-linejoin="round"/>
<polyline points="435.4,228.4 436.33,228.46 437.24,228.61 438.14,228.9 439.05,229.05 439.99,229.05 440.91,229.1 441.89,229.25 442.86,229.51 443.85,229.63 444.86,229.49 445.86,229.45 446.82,229.84 447.78,230.23 448.73,230.03 449.55,230.75 449.84,231.73 449.95,232.81 450.49,233.67 451.23,234.43 451.64,235.35 451.99,236.39 452.94,236.47 453.9,236.4 454.86,236.44 455.8,236.68 456.74,236.86 457.71,236.71 458.67,236.62 459.59,237.02 460.52,237.33 461.43,237.05 461.82,236.11 462.76,235.59 463.5,234.91 463.76,233.88 464.27,233.04 465.07,232.41 465.65,231.61 466.2,230.8" fill="none" stroke="#b3b5b7" stroke-width="1.3" stroke-linejoin="round"/>
<polyline points="219.4,239.4 219.36,240.39 219.24,241.38 219,242.35 218.92,243.34 218.95,244.34 218.91,245.34 218.69,246.31 218.42,247.35 218.74,248.22 219.26,249.05 219.52,249.94 219.39,250.93 219.41,251.88 219.96,252.7 220.29,253.29 221.15,253.75 221.97,254.36 222.91,254.54 223.9,254.54 224.82,254.82 225.75,255.25 226.37,254.58 226.87,253.8 227.41,253.06 228.11,252.46 228.83,251.88 229.31,251.08 229.71,250.22 230.55,249.66 230.8,250.67 231.55,251.31 232.45,251.86 232.78,252.8 233.04,253.81 233.8,254.45 234.55,255.03 235.13,255.74 235.68,256.48 236.42,257.01 237.21,257.48 237.89,258.08 238.48,258.77 239.13,259.41 239.94,259.88 240.54,260.71 240.77,261.72 241.01,262.73 241.75,263.49 242.5,264.24 242.68,265.28 242.92,266.47 243.81,266.85 244.79,267.1 245.57,267.65 246.22,268.39 246.96,268.99 247.82,269.41 248.68,269.85 249.45,270.41 250.14,271.03 250.62,272.09 251.38,273.01 251.7,273.92 252.63,273.74 253.53,273.52 254.23,272.92 254.83,272.14 255.6,271.67 256.56,271.56 257.46,271.32 258.16,270.72 258.92,270.04 259.93,270.2 260.92,270.51 261.93,270.63 262.96,270.6 263.98,270.67 264.98,270.96 265.91,271.13 266.83,271.44 267.71,271.82 268.31,272.61 268.95,273.34 269.93,273.56 270.98,273.89 271.29,274.91 271.66,275.88 272.54,276.47 273.1,277.09 274.08,277.35 275.05,277.44 276.02,277.26 277,277.2 277.98,277.34 278.95,277.42 279.92,277.24 280.82,277.13 282.03,276.89 283.06,276.29 284.1,275.7" fill="none" stroke="#b3b5b7" stroke-width="1.3" stroke-linejoin="round"/>
<polyline points="284.1,275.7 284.51,274.78 284.98,273.88 285.55,273.04 286,272.13 286.33,271.17 286.72,270.24 287.31,269.45 288.32,269.42 289.25,269.01 290.16,268.5 291.18,268.5 292.24,268.72 293.18,268.36 294.07,267.73 294.94,267.75 295.55,266.94 295.78,266.01 295.8,265.02 296.06,264.1 296.49,263.23 296.72,262.39 297.68,262.04 298.65,261.79 299.68,261.81 300.68,261.65 301.6,261.11 302.59,260.93 303.67,261.18 304.49,260.81 305.45,261.13 306.03,261.83 306.36,262.78 307.01,263.41 307.8,263.77 308.7,263.73 309.6,263.95 310.5,264.03 311.4,263.9 312.3,263.8 313.2,263.86 314.19,263.97 314.79,263.15 315.2,262.19 315.83,261.4 316.75,260.83 317.25,260.15 318.15,259.53 319.12,259.22 320.18,259.43 321.21,259.45 322.14,258.98 323.09,258.57 324.1,258.52 325.15,258.5 326.04,258.02 326.88,257.44 327.75,256.93 328.71,256.59 329.68,256.27 330.53,255.71 331.32,254.98 332.23,254.67 333.27,254.69 334.22,254.47 334.98,253.78 335.78,253.17 336.77,253.07 337.75,253.04 338.78,252.63 339.82,252.28 340.9,252.1" fill="none" stroke="#b3b5b7" stroke-width="1.3" stroke-linejoin="round"/>
<polyline points="344,231.5 343.6,232.43 343.15,233.34 342.59,234.21 342.16,235.12 341.86,236.11 341.48,237.05 340.81,237.94 341.14,238.95 341.92,239.73 342.56,240.58 342.63,241.71 342.9,242.5 342.98,243.48 342.92,244.42 342.38,245.2 341.87,245.99 341.73,246.9 341.63,247.82 341.29,248.67 340.87,249.48 340.59,250.35 340.45,251.26 340.22,252.08 340.16,253.06 340.23,254.01 340.72,254.9 341,255.82 340.75,256.89 341.1,257.75 341.96,258.31 342.58,259.01 342.72,259.99 343.02,260.89 343.72,261.54 344.35,262.23 344.69,263.1 345.03,263.97 345.55,264.71 345.91,265.58 346.14,266.48 346.22,267.42 346.35,268.34 346.77,269.19 347.22,270.04 347.29,270.99 347.02,272.09 347.29,273.14 347.86,274.15 347.87,275.22 347.74,276.52 348.65,276.74 349.61,276.7 350.54,276.82 351.41,277.17 352.28,277.53 353.18,277.76 354.12,277.88 354.74,278.61 355.2,279.44 355.56,280.34 356.09,281.13 356.87,281.75 357.47,282.35 358.09,283.13 358.68,283.95 359.56,284.33 360.58,284.52 361.34,285.08 361.91,285.89 362.52,286.6 363.35,287.08 364.1,287.65 364.68,288.39 365.26,289.12 366.01,289.74 366.92,289.43 367.87,289.3 368.85,289.38 369.78,289.2 370.89,288.8 371.31,289.69 371.32,290.78 371.82,291.62 372.69,292.28 373.02,293.21 373.07,294.28 373.63,295.1 374.33,295.84 374.66,296.82 374.19,297.7 373.96,298.67 373.79,299.65 373.44,300.57 373.03,301.61 373.85,302.07 374.77,302.35 375.55,302.86 376.14,303.67 376.89,304.23 377.9,304.38 378.8,304.71 379.39,305.5 379.56,306.54 380.24,307.32 380.92,308.1 381.25,309.06 381.51,310.05 381.98,310.94 382.47,311.75 383.33,311.28 384.26,310.95 385.2,310.64 386.04,310.13 386.8,309.45 387.67,309.01 388.71,308.9 389.67,308.63 390.4,307.9 391.38,307.8 392.24,308.15 393.06,308.71 393.95,308.99 394.9,308.95 395.84,309.02 396.64,309.39 396.88,308.45 396.95,307.5 396.9,306.53 396.94,305.57 397.19,304.63 397.43,303.69 397.3,302.71 397.12,301.73 397.48,300.77 398.47,300.61 399.15,299.93 399.74,299.09 400.62,298.75 401.36,298.61 402.21,299.03 403.16,299.29 403.91,299.86 404.58,300.55 405.37,301.05 406.18,301.43 407.12,301.13 408.11,301 409.05,300.7 409.91,300.14 410.99,299.89 411.55,300.86 412.46,301.4 413.56,301.69 414.21,302.54 414.78,303.5 415.8,303.93 416.73,303.77 417.61,304.03 418.48,304.38 419.39,304.47 420.31,304.42 421.21,304.48 422.1,304.7 422.81,305.44 423.64,306.03 424.56,306.51 425.32,307.2 425.88,308.11 426.66,308.81 427.65,308.99 428.56,309.31 429.2,310.03 429.8,310.83 430.62,311.28 431.58,311.51 432.42,311.92 433.1,312.57 433.99,312.83 434.89,312.91 435.8,312.9 436.71,312.95 437.6,313.14 438.48,313.42 439.26,313.43 439.7,314.26 440.06,315.12 440.01,316.06 439.89,317.02 440.23,317.87 440.85,318.67 441.06,319.55 440.89,320.58 441.32,321.43 442.11,322.04 442.76,322.74 443.12,323.64 443.56,324.49 444.2,325.2 444.1,326.21 443.79,327.17 443.45,328.13 443.44,329.16 443.42,330.18 442.9,331.11 442.52,332.06 442.63,332.93 443.59,332.96 444.45,333.58 445.37,333.86 446.38,333.62 447.33,333.67 448.19,334.07 449.08,334.29 450,334.24 450.91,334.24 451.8,334.44 452.69,334.68 453.62,334.77 454.45,334.33 455.31,334.01 456.26,333.98 457.19,333.89 458,333.4 458.78,332.8 459.69,332.64 460.69,332.78 461.77,332.44 461.91,331.17 462.38,330.07 463.16,329 462.37,328.51 461.5,328.18 460.65,327.81 459.87,327.31 459.16,326.82 459.54,325.88 459.7,324.87 459.85,323.85 460.34,322.95 460.99,321.96 460.76,321.06 460.22,320.2 459.98,319.3 460.21,318.33 460.34,317.37 459.89,316.59 460.91,316.4 461.89,316.6 462.85,316.91 463.84,316.98 464.84,316.93 465.83,317.02 466.8,317.28 467.77,317.43 468.81,317.38 469.81,317.51 470.72,318.09 471.7,318.33 472.79,318.05 473.77,318.29 474.66,318.97 475.62,319.03 476.6,319.15 477.35,319.65 477.99,320.35 478.78,320.78 479.66,321.05 480.46,321.47 481.16,322 481.09,322.93 481.23,323.85 481.37,324.77 481.2,325.7 480.95,326.62 481.13,327.55 481.5,328.48 481.37,329.4 480.93,330.33 480.94,331.25 481.36,332.18 481.48,333.07 481.25,334.09 481.19,335.1 481.48,336.06 481.73,337.04 481.75,338.03 481.72,339.03 481.82,340.02 482.07,340.97 482.49,341.81 482.67,342.74 482.76,343.7 483.15,344.55 483.75,345.32 484.07,346.19 484.3,347.1" fill="none" stroke="#b3b5b7" stroke-width="1.3" stroke-linejoin="round"/>
<polyline points="251.4,273.9 252.17,273.38 252.95,272.89 253.79,272.49 254.61,272.05 255.32,271.44 256.03,270.82 256.88,270.44 257.65,270.24 258.59,270.37 259.6,270.16 260.53,270.34 261.36,270.99 262.26,271.28 263.28,271.07 264.23,271.16 265.09,271.67 265.99,271.97 266.96,271.97 267.9,272.08 268.79,272.41 269.23,273.24 269.84,273.96 270.48,274.67 270.86,275.53 271.19,276.44 271.9,277.12 272.85,276.79 273.8,277.06 274.75,277.44 275.7,277.16 276.65,276.78 277.6,277.01 278.55,277.35 279.5,277.2 280.45,276.95 281.49,277.08 281.52,278 281.71,278.9 282.03,279.76 282.32,280.62 282.42,281.53 282.44,282.46 282.66,283.34 283.13,284.12 283.73,284.84 283.95,285.79 284.17,286.74 284.81,287.44 285.64,288.01 286.16,288.78 286.37,289.74 286.68,290.4 286.43,291.39 286.22,292.39 285.78,293.29 285.25,294.14 284.81,295.04 284.51,295.99 285.16,296.71 285.62,297.54 285.95,298.47 286.46,299.27 287.28,299.86 287.97,300.55 288.21,301.53 288.48,302.5 289.21,303.07 289.21,304.1 288.75,304.95 288.11,305.74 287.81,306.66 287.67,307.63 287.33,308.53 286.84,309.4 286.74,310.32 286.81,311.25 286.85,312.19 286.59,313.1 286.33,314.01 286.52,314.95 286.74,315.9 286.38,316.8 285.95,317.7 286.19,318.65 286.49,319.6 286.13,320.56 285.08,320.71 284.29,321.37 283.48,321.99 282.5,322.27 281.55,322.61 280.7,323.16 279.78,323.71 278.81,323.39 277.86,323.03 276.84,323.01 275.8,323.05 274.86,322.62 273.94,322.08 272.9,322.13 272.05,322.29 271.06,322.58 269.99,322.69 269.12,323.22 268.36,323.95 267.47,324.42 266.48,324.7 265.59,325.09 264.7,325.3 263.81,325.53 262.91,325.64 261.99,325.6 261.07,325.57 260.19,325.82 259.48,326.14 258.87,326.93 257.93,327.46 257.18,328.13 256.85,329.14 256.34,330.18 255.36,330.41 254.35,330.59 253.51,331.13 252.74,331.78 251.86,332.21 250.91,332.52 250.01,332.92 249.19,333.49 248.4,334 247.45,334.62 246.56,335.3 246.03,336.36 245.18,336.81 245.85,337.55 246.68,337.93 247.69,337.84 248.57,338.06 249.27,338.75 250.06,339.23 251,339.31 251.9,339.51 252.68,340 253.47,340.44 254.35,340.69 255.23,340.9 256.15,341.29 257.03,341.79 258.01,341.99 259.04,342.05 259.94,342.6 259.48,343.56 259.65,344.57 259.94,345.6 259.57,346.56 259.1,347.51 259.21,348.52 259.41,349.53 259.17,350.56 258.35,351.2 257.74,352.02 257.21,352.9 256.57,353.69 255.8,354.38 255.06,355.25 255.5,356.06 256,356.85 256.22,357.74 256.18,358.72 256.35,359.62 256.94,360.38 257.55,361.14 257.73,362.04 257.67,363.02 257.86,363.92 258.37,364.7 258.69,365.59 258.75,366.52 258.71,367.46 258.8,368.38 259.02,369.28 259.26,370.18 259.35,371.11 259.28,372.05 259.34,372.98 259.73,373.86 260.07,374.74 259.92,375.7 259.73,376.71 260.12,377.62 260.69,378.5 260.68,379.48 260.46,380.49 260.73,381.42 261.17,382.32 261.27,383.28 261.24,384.27 261.43,385.21 261.79,386.17 261.96,387.16 261.97,388.19 262.23,389.16 262.72,390.09 262.76,391.11 262.59,392.17 263.07,393.11 263.74,393.85 263.79,394.81 263.74,395.81 264.23,396.62 264.86,397.38 265.08,398.28 265.16,399.23 265.52,400.08 265.91,400.92 266.2,401.8" fill="none" stroke="#b3b5b7" stroke-width="1.3" stroke-linejoin="round"/>
<polyline points="396.7,309.4 396.84,310.3 396.96,311.2 396.97,312.11 397.03,313.02 397.32,313.89 397.6,314.77 397.53,315.72 396.62,316.31 396.17,317.28 395.82,318.32 394.91,318.91 394,319.49 393.62,320.53 392.93,321.18 392,321.43 391.11,321.73 390.39,322.32 389.68,322.71 390.33,323.41 390.95,324.14 391.71,324.72 392.54,325.21 393.19,325.9 393.71,326.75 394.5,327.29 395.47,327.63 396.09,328.36 396.54,328.84 395.81,329.43 395.26,330.31 394.46,330.79 393.47,330.97 392.66,331.44 392,332.15 391.26,332.72 390.4,333.1 389.66,333.7 389.03,334.41 388.46,335.19 387.79,335.86 386.97,336.39 386.21,336.97 385.71,337.82 384.84,338.42 383.81,338.53 382.72,338.46 381.79,338.88 381.04,339.56 380.27,340.25 379.28,340.67 378.43,341.26 377.77,342.07 377.06,342.82 376.21,343.43 375.11,343.5 374.04,343.74 373,344.15 371.99,344.13 372.34,345.11 372.92,345.91 373.85,346.45 374.55,347.16 374.8,348.21 375.25,349.12 376.15,349.68 376.92,350.36 377.19,351.29 377.52,352.17 378.13,352.88 378.75,353.59 379.18,354.41 379.55,355.27 380.05,356.05 380.71,356.83 380.47,357.78 379.94,358.65 379.73,359.61 379.89,360.66 379.57,361.59 378.86,362.42 378.77,363.41 378.97,364.47 378.56,365.38 378.14,366.08 377.29,366.46 376.48,366.95 375.59,367.16 374.67,367.25 373.79,367.49 372.95,367.88 372.09,368.21 371.17,368.33 370.28,368.41 369.32,368.65 368.38,369.06 367.39,369.04 366.37,368.72 365.4,368.86 364.47,369.4 363.5,369.59 362.49,369.33 361.53,369.23 360.6,369.51 359.66,369.79 358.71,369.81 357.75,369.74 356.79,369.78 355.85,369.96 354.91,370.17 353.96,370.21 353.12,370.14 352.71,369.16 351.93,368.38 351.36,367.48 351.1,366.43 350.6,365.5" fill="none" stroke="#b3b5b7" stroke-width="1.3" stroke-linejoin="round"/>
<polyline points="351.8,371.5 351.58,372.39 351.31,373.26 350.93,374.1 350.66,374.98 350.65,375.93 350.48,376.83 349.91,377.62 349.45,378.43 349.52,379.43 348.92,380.28 347.9,380.57 346.95,380.95 346.38,381.84 345.7,382.58 344.74,382.96 343.9,383.49 343.21,384.24 342.3,384.62 341.32,384.82 340.3,385.23 340.7,386.08 341.03,386.96 341.01,387.92 341.06,388.87 341.59,389.69 342.1,390.52 342.01,391.49 342.6,392.29 343.53,392.58 344.51,392.76 345.23,393.38 345.85,394.14 346.65,394.62 347.55,394.94 348.33,395.39 349.2,395.72 350.08,396.03 350.99,396.19 351.93,396.25 352.84,396.42 353.69,396.84 354.37,397.13 354.96,397.85 355.71,398.47 356.18,399.26 356.29,400.24 356.52,401.16 357.15,401.86 357.9,402.55 358.12,403.6 358.08,404.7 358.29,405.75 358.7,406.75 358.97,407.87 358.23,408.48 357.47,409.08 356.84,409.81 356.33,410.66 355.66,411.35 354.75,411.8 354.03,412.37 353.48,413.28 352.83,414.05 351.8,414.31 350.86,414.7 350.27,415.55 349.62,416.32 348.69,416.71 347.78,417.2 347.19,418.22 346.5,419.16 345.64,419.94 344.97,420.61 344.44,421.43 343.78,422.11 342.89,422.56 342.2,423.22 341.83,424.19 341.23,424.77 340.52,425.51 340.2,426.37 340.36,427.38 340.19,428.29 339.59,429.06 339.22,429.91 339.14,430.85 338.91,431.73 338.6,432.6" fill="none" stroke="#b3b5b7" stroke-width="1.3" stroke-linejoin="round"/>
<polyline points="36.3,141.3 41,143.9 45.7,147 48.1,151.8 52,155.8 51.3,166.8 43.4,181.8 31.5,185 18.9,191.3" fill="none" stroke="#1010f5" stroke-width="1.05" stroke-linejoin="round"/>
<polyline points="239.6,101.3 243.1,105 243.9,110.5 249.4,115.2 247,120.7 254.1,123.9 260.4,126.2 258.9,131 251.8,136.3 250.2,144.2 248.6,149.7" fill="none" stroke="#1010f5" stroke-width="1.05" stroke-linejoin="round"/>
<polyline points="248.6,149.7 247.68,149.79 246.8,150.21 245.9,150.47 244.92,150.11 243.95,149.93 243.1,150.33 242.09,150.74 241.07,150.72 240.06,150.45 239.04,150.33 238.03,150.44 237.01,150.62 236.12,150.62 235.31,151.18 234.43,151.68 233.75,152.37 233.33,153.33 232.88,154.26 232.09,154.84 231.05,155.17 230.03,156.09 230.47,157.03 231.09,157.93 231.38,158.9 231.33,159.93 231.29,160.97 231.47,161.95 231.81,162.91 232.02,164.04 231.08,164.2 230.11,164.18 229.13,164.11 228.2,164.32 227.42,164.82 226.85,165.81 225.74,166.29 224.62,166.76 224.22,167.75 223.22,168.1 222.29,167.96 221.41,167.43 220.5,167.11 219.55,167.15 218.62,167.23 217.68,167.38 216.71,167.37 215.75,167.41 214.83,167.7 214.12,168.01 213.57,168.92 212.65,169.63 212.2,170.59 212.28,171.82 211.67,172.95 210.5,172.84 209.51,173.1 208.82,173.97 208.05,174.67 207.03,174.88 206.02,175.09 205.26,175.6 204.38,175.24 203.55,174.79 202.83,174.18 202.17,173.48 201.41,172.93 200.51,172.66 199.62,173.14 198.66,173.17 197.64,172.84 196.66,172.75 195.74,173.24 195.01,174.03 194.14,174.44 193.12,174.45 192.12,174.48 191.22,174.82 190.39,175.36 189.56,175.83 188.72,176.19 187.84,176.45 186.94,176.67 186.08,176.98 185.31,177.48 184.34,178.07 183.54,177.48 183.06,176.58 182.68,175.57 182,174.87 180.95,174.54 180.09,174.03 179.63,173.21 179.41,172.21 179.01,171.35 178.32,170.73 177.66,170.06 177.17,169.28 176.84,168.42 176.54,167.54 176.11,166.73 175.51,166.02 175.02,165.44 174.11,165.01 173.28,164.29 172.31,164 171.18,164.26 170.56,164.07 169.5,164.16 168.52,164.36 167.92,165.11 167.42,166.02 166.48,166.57 165.51,166.12 164.51,165.95 163.5,166.08 162.58,166.12 161.73,166.58 160.82,166.94 160,167.45 159.36,168.23 158.69,168.96 157.72,169.28 156.69,169.09 155.79,169.37 155.11,170.1 154.64,171.11 153.62,171.61 152.58,172.1 151.96,172.97 151.49,174 150.75,174.72 149.85,175.26 148.97,175.8 148.18,176.47 147.51,177.26 146.79,178.12 145.92,178.45 144.95,178.52 143.98,178.61 143.16,179.05 142.48,179.83 141.77,180.51 140.86,180.75 139.83,180.69 138.86,180.79 138.06,181.28 137.34,181.95 136.55,182.45 135.7,182.68 134.97,183.25 134.31,183.88 133.77,184.6 133.31,185.4 132.83,186.18 132.17,186.8 131.33,187.28 130.61,187.86 130.26,188.74 130.03,189.74 129.44,190.42 128.45,190.76 127.6,191.23 127.23,192.1 127,193.09 126.34,193.87 125.29,193.99 124.34,194.29 123.55,194.9 122.75,195.51 121.85,195.9 120.88,196.16 119.98,196.55 119.23,197.25 118.54,197.82 117.64,198.32 116.66,198.74 116.16,199.6 115.95,200.72 115.31,201.46 114.24,201.79 113.38,202.33 112.97,203.28 112.57,204.22 111.85,204.89 111.01,205.43 110.3,206.08 109.64,206.77 109.01,207.5 108.32,208.16 107.48,208.64 106.58,209.04 105.83,209.62 105.33,210.5 104.83,211.4 104.05,211.94 103.01,212.17 102.06,212.52 101.43,213.26 100.97,214.21 100.3,214.89 99.43,215.27 98.5,215.54 97.65,215.94 96.9,216.51 96.2,217.14 95.47,217.73 94.63,218.22 93.7,218.23 92.76,218.22 91.89,218.48 91.08,219.04 90.25,219.5 89.31,219.46 88.37,219.43 87.5,219.7" fill="none" stroke="#1010f5" stroke-width="1.05" stroke-linejoin="round"/>
<polyline points="178.2,170.8 176,174.5 172.5,174.5 171,170 170.3,164" fill="none" stroke="#1010f5" stroke-width="1.05" stroke-linejoin="round"/>
<polyline points="171.1,173.9 170.62,174.74 170.08,175.54 169.3,176.17 168.7,176.92 168.32,177.83 167.87,178.7 167.24,179.45 166.45,179.93 165.7,180.46 165.03,181.1 164.4,181.78 163.71,182.39 162.88,182.82 162.02,183.21 161.32,183.82 160.81,184.65 160.23,185.4 159.44,185.66 159.3,186.67 159.48,187.6 160,188.44 160.43,189.3 160.56,190.24 160.59,191.21 160.8,192.17 161.41,192.89 162.02,193.61 162.51,194.41 162.89,195.28 163.35,196.1 164.03,196.83 163.41,197.78 162.39,198.34 161.44,198.98 161,200.1 160.46,200.91 159.53,201.32 158.68,201.81 158.19,202.66 157.68,203.5 156.92,204.07 156.1,204.64 155.66,205.45 155.3,206.32 154.84,207.12 154.23,207.83 153.67,208.57 153.35,209.46 153.05,210.36 152.4,211.05 151.63,211.66 151.32,212.44 150.67,213.28 149.81,213.7 148.76,213.76 147.86,214.1 147.15,214.82 146.37,215.41 145.44,215.7 144.51,215.99 143.67,216.46 142.88,217.01 142.07,217.49 141.29,217.99 140.47,218.43 139.75,219 139.18,219.75 138.59,220.48 137.78,220.95 136.84,221.24 136.05,221.72 135.51,222.52 134.99,223.35 134.25,223.89 133.35,224.23 132.53,224.68 131.88,225.33 131.27,226.05 130.58,226.66 129.81,227.16 129.02,227.64 128.29,228.2 127.65,228.87 127.03,229.57 126.28,230.09 125.39,230.49 124.61,231.01 124.11,231.84 123.62,232.7 122.81,233.19 121.84,233.49 121.12,234.08 120.66,234.95 120.12,235.59 119.55,236.39 119.03,237.22 118.77,238.15 118.54,239.09 118.14,239.96 117.64,240.79 117.26,241.67 117.11,242.59 117.25,243.58 116.99,244.58 116.92,245.58 117.39,246.54 117.64,247.52 117.26,248.53 117.12,249.53 117.55,250.47 118.22,251.15 118.52,252.06 118.86,252.95 119.44,253.69 120.07,254.39 120.57,255.18 120.96,256.04 121.41,256.88 122.07,257.5 122.81,258.06 123.38,258.76 123.76,259.63 124.21,260.43 124.97,260.97 125.83,261.43 126.43,262.12 126.74,263.15 127.2,264.05 128.01,264.68 128.83,265.3 129.44,266.22 129.14,267.11 128.95,268.01 128.9,268.94 128.9,269.86 128.85,270.79 128.64,271.69 128.35,272.58 128.2,273.54 128.35,274.53 128.47,275.52 128.18,276.46 127.68,277.38 127.64,278.35 127.74,279.34 127.6,280.3" fill="none" stroke="#1010f5" stroke-width="1.05" stroke-linejoin="round"/>
<polyline points="217.9,167.1 217.8,168.07 217.64,169.03 217.32,169.96 217.05,170.9 216.94,171.86 216.87,172.84 216.76,173.81 216.55,174.76 216.23,175.66 215.68,176.47 215.33,177.38 215.15,178.37 214.84,179.3 214.2,180.06 213.44,180.76 212.97,181.61 212.82,182.61 212.61,183.59 212.08,184.41 211.42,185.22 211.61,186.12 211.99,186.97 212.37,187.81 212.66,188.68 212.83,189.59 212.98,190.5 213.27,191.37 213.74,192.19 214.1,192.97 214.41,193.88 214.65,194.84 215.23,195.57 216.08,196.13 216.67,196.87 216.86,197.85 217.16,198.77 217.8,199.38 217.83,200.34 217.58,201.23 217.17,202.09 216.87,202.97 216.73,203.89 216.62,204.82 216.39,205.74 215.83,206.55 215.32,207.39 215.08,208.34 214.94,209.34 214.48,210.2 213.8,210.85 212.93,211.2 212.29,211.91 211.68,212.69 210.9,213.19 209.97,213.46 209.09,213.79 208.33,214.33 207.64,214.96 206.9,215.52 206.1,215.99 205.26,216.39 204.42,216.81 203.66,217.29 202.85,217.72 202.04,218.17 201.18,218.45 200.24,218.5 199.29,218.53 198.43,218.81 197.65,219.37 196.88,219.93 196.01,220.2 195.07,220.24 194.06,220.36 193.38,221.05 192.81,221.85 192.18,222.6 191.45,223.24 190.67,223.83 189.92,224.44 189.25,225.18 189.09,226.15 188.8,227.07 188.23,227.89 187.64,228.69 187.44,229.64 187.47,230.69 187.17,231.63 186.37,232.37 185.75,233.2 185.56,234.24 185.31,235.25 184.74,236.1 184.14,236.94 183.73,237.89 183.74,238.81 183.68,239.71 183.46,240.6 183.19,241.48 183.1,242.38 183.25,243.32 183.22,244.37 182.38,244.97 181.53,245.57 181.1,246.49 180.82,247.52 180.19,248.28 179.3,248.85 178.61,249.57 178.18,250.49 177.87,251.35 177.41,252.12 176.86,252.85 176.34,253.59 175.91,254.39 175.57,255.23 175.19,255.86 175.96,256.37 176.63,257.05 177.31,257.7 178.15,258.11 179.11,258.32 180.01,258.63 180.72,259.24 181.34,260.01 182.04,260.63 182.9,261 183.81,261.28 184.65,261.67 185.4,262.22 186.12,262.81 186.88,263.35 187.68,263.8 188.53,264.19 189.38,264.57 190.15,265.08 190.83,265.75 191.52,266.39 192.37,266.78 193.33,266.98 194.21,267.33 194.86,268.03 195.35,268.53 195.08,269.44 195.12,270.45 195.01,271.41 194.61,272.29 194.16,273.15 193.94,274.01 193.19,274.68 192.41,275.29 191.53,275.76 190.58,276.22 190.07,277.02 189.76,277.96 189.3,278.78 188.53,279.41 187.94,280.16 187.5,281" fill="none" stroke="#1010f5" stroke-width="1.05" stroke-linejoin="round"/>
<polyline points="175.1,256 167.2,258.4 157.7,260.7 148.3,263.9 141.2,267.8" fill="none" stroke="#1010f5" stroke-width="1.05" stroke-linejoin="round"/>
<polyline points="248.6,149.7 248.67,150.7 248.69,151.7 248.55,152.7 248.53,153.8 249.35,154.31 250.2,154.78 251.03,155.27 251.79,155.87 252.47,156.57 253.18,157.23 254.06,157.7 255.05,157.77 255.98,158.01 256.76,158.6 257.51,159.28 258.38,159.65 259.38,159.71 260.34,159.86 261.17,160.31 261.94,160.86 262.57,161.55 263.31,162.12 264.06,162.69 264.73,163.34 265.31,164.08 265.88,164.8 266.57,165.44 267.37,165.98 267.99,166.66 268.36,167.58 268.8,168.42 269.62,168.94 270.51,169.39 271.05,170.16 271.4,171.14 272.14,171.79 273.1,172.14 273.97,172.62 274.67,173.32 275.37,174.02 276.19,174.58 277.05,175.06 277.82,175.58 278.75,175.88 279.67,176.21 280.63,176.29 281.63,176.15 282.6,176.21 283.5,176.68 284.39,177.15 285.36,177.19 286.37,176.99 287.37,177.02 288.26,177.46 289.14,177.92 290.08,178.17 291.06,178.27 292.02,178.41 292.96,178.65 293.88,178.99 294.79,179.34 295.73,179.6 296.73,179.68 297.56,180.32 298.18,181.14 298.58,182.15 299.1,183.06 299.94,183.69 300.93,184.35 301.17,185.23 301.14,186.16 301.11,187.1 301.28,187.98 301.61,188.84 301.92,189.71 302.11,190.59 302.2,191.5 302.09,192.44 302.09,193.39 302.27,194.33 302.43,195.28 302.28,196.22 301.95,197.17 301.93,198.11 302.31,199.06 302.49,200.2 301.71,200.84 300.88,201.43 300.4,202.27 300.1,203.23 299.59,204.05 298.88,204.73 298.25,205.46 297.77,206.3 297.33,207.16 296.78,207.94 296.17,208.76 295.65,209.62 295.43,210.63 295.19,211.63 294.52,212.42 293.75,213.16 293.41,214.19 293.78,215.2 293.78,216.19 293.41,217.16 293.17,218.14 293.27,219.13 293.4,220.13 293.36,221.12 293.2,222.1 293.34,223.01 293.58,223.9 293.94,224.76 294.32,225.6 294.55,226.49 294.57,227.44 294.58,228.39 294.89,229.08 294.71,230.02 294.5,230.93 294.01,231.69 293.31,232.33 292.67,233.01 292.26,233.81 291.99,234.69 291.4,235.5 290.68,236.18 289.89,236.79 289.13,237.43 288.44,238.14 287.84,238.94 287.23,239.73 286.46,240.36 285.51,240.94 285.16,241.79 285.14,242.75 285.19,243.72 284.9,244.59 284.29,245.36 283.81,246.18 283.7,247.11 283.71,248.07 283.45,249 282.74,249.68 282.1,250.41 281.61,251.24 281.17,252.11 280.63,252.9 279.95,253.61 279.3,254.33 278.89,255.21 278.56,256.16 277.88,256.93 276.89,257.07 276.06,257.48 275.46,258.27 274.81,258.97 273.91,259.26 272.95,259.44 272.17,259.92 271.5,260.6 270.77,261.16 269.93,261.55 268.96,261.88 268.06,262.34 267.22,262.91 266.37,263.46 265.42,263.83 264.41,264.07 263.39,264.62 263.3,265.72 263.02,266.74 262.43,267.64 262,268.6" fill="none" stroke="#1010f5" stroke-width="1.05" stroke-linejoin="round"/>
<polyline points="265.2,163.9 264.88,164.93 264.53,165.95 263.89,166.86 263.43,168 264.04,168.7 264.63,169.41 265.1,170.19 265.49,171.01 265.89,171.84 266.34,172.63 266.87,173.37 267.45,174.08 267.98,174.83 268.34,175.66 268.82,176.62 269.44,177.46 270.31,178.09 271.18,178.72 271.78,179.58 272.21,180.44 271.63,181.16 271.24,182 270.92,182.87 270.49,183.69 269.94,184.44 269.19,185.04 268.49,185.68 267.87,186.39 267.28,187.16 266.64,187.86 265.85,188.41 265,188.99 264.61,189.82 264.42,190.78 264.08,191.64 263.4,192.32 262.69,192.97 262.3,193.81 262.1,194.73 261.92,195.64 261.49,196.47 261.08,197.31 260.87,198.21 260.72,199.13 260.47,200.05 259.87,200.79 259.25,201.52 258.77,202.34 258.42,203.25 257.92,204.06 257.17,204.69 256.49,205.39 256.17,206.31 255.9,207.28 255.31,208.02 254.51,208.63 253.91,209.37 253.56,210.27 253.17,211.15 252.61,211.91 251.97,212.61 251.4,213.37 250.92,214.18 250.48,215.02 250,215.83 249.4,216.57 248.73,217.25 248.16,218 247.79,218.9 248.2,219.82 248.36,220.78 248.24,221.79 248.18,222.78 248.47,223.55 247.94,224.32 247.34,225.01 246.62,225.56 245.85,226.05 245.1,226.57 244.42,227.16 243.78,227.81 243.17,228.45 242.59,229.25 241.91,229.97 241.2,230.66 240.63,231.46 240.25,232.4 239.8,233.29 239.06,233.97 238.21,234.57 237.66,235.35 237.37,236.3 236.99,237.19 236.35,237.91 235.65,238.59 235.1,239.37 234.68,240.23 234.21,241.06 233.62,241.83 232.76,242.28 231.96,242.81 231.26,243.5 230.55,244.16 229.66,244.56 228.71,244.89 227.99,245.53 227.41,246.38 226.63,246.95 225.65,247.21 224.79,247.56 224.11,248.22 223.44,248.88 222.64,249.32 221.78,249.66 220.97,250.09 220.23,250.64 219.5,251.2 218.73,251.7 217.89,252.09 217.19,252.69 216.61,253.4 216.18,254.23 215.69,255.02 214.99,255.62 214.16,256.1 213.48,256.72 213.01,257.6 213.29,258.52 213.33,259.43 213.15,260.35 212.98,261.27 212.96,262.18 213.07,263.11 213.62,263.97 214.09,264.86 214.47,265.8 214.83,266.75 215.28,267.66 215.88,268.48 216.46,269.24 217.08,269.95 217.54,270.82 218.05,271.64 218.79,272.24 219.67,272.7 220.41,273.3 220.94,274.1 221.52,274.85 222.2,275.5" fill="none" stroke="#1010f5" stroke-width="1.05" stroke-linejoin="round"/>
<polyline points="358.9,250.5 359.79,250.13 360.67,249.74 361.6,249.46 362.56,249.29 363.48,249 364.31,248.46 365.09,247.82 365.98,247.45 367.01,247.43 368.03,247.41 368.9,247 369.67,246.3 370.49,245.77 371.41,245.59 372.29,245.18 373.06,244.63 373.72,243.94 374.37,243.24 375.08,242.61 375.87,242.08 376.71,241.61 377.47,241.05 378.07,240.29 378.63,239.48 379.36,238.88 380.3,238.54 381.13,238.25 381.96,237.89 382.7,237.26 383.46,236.69 384.32,236.41 385.26,236.32 386.17,236.2 387.03,235.91 387.85,235.5 388.67,235.08 389.5,234.71 390.36,234.41 391.24,234.2 392.16,234.03 393.08,233.69 393.9,233.17 394.65,232.49 395.41,231.85 396.28,231.43 397.28,231.25 398.28,231.1 399.19,230.75 400.04,230.12 400.46,229.27 400.96,228.48 401.57,227.79 402.26,227.16 402.94,226.53 403.59,225.88 404.18,225.17 404.7,224.41 405.62,224.11 406.54,223.88 407.5,223.87 408.49,224.02 409.13,223.97 409.91,224.53 410.85,224.93 411.68,225.44 412.24,226.23 412.68,227.14 413.24,227.92 414.1,228.53 415.15,228.31 416.2,228.27 417.25,228.38 418.3,228.51 419.35,228.51 420.36,228.33 421.17,227.74 422.11,227.41 423.14,227.28 424.07,226.93 424.79,226.18 425.5,225.41 426.41,225.03 427.47,224.94 428.52,224.62 429.08,223.86 429.57,223.04 430.18,222.33 430.91,221.74 431.67,221.18 432.41,220.53 432.66,219.55 432.81,218.54 433.06,217.56 433.4,216.6" fill="none" stroke="#1010f5" stroke-width="1.05" stroke-linejoin="round"/>
<polyline points="436.2,220 435.37,219.25 434.75,218.34 434.29,217.29 433.27,216.62 433.69,217.46 433.98,218.33 433.92,219.25 433.64,220.21 433.73,221.11 434.45,221.9 435.13,222.7 434.93,223.67 434.08,224.74 434.19,225.71 435.26,226.59 435.66,227.53 435.01,228.58 434.7,229.6 435.24,230.53 435.71,231.56 435.28,232.5 434.78,233.43 434.7,234.44 434.87,235.5 434.57,236.47 433.78,237.34 433.74,238.36 434.35,239.67 433.69,240.44 432.32,240.85 432.12,241.84 432.63,243.19 432.01,243.97 430.77,244.45 430.46,245.39 430.6,246.55 430.08,247.47 429.11,247.87 428.41,248.52 427.95,249.42 427.41,250.24 426.52,250.7 425.56,251.11 425.16,251.98 424.42,253.06 423.28,253.07 421.94,252.54 420.83,253.54 421.61,254.66 421.46,255.62 420.51,256.45 420.04,257.35 420.39,258.49 421.4,258.24 422.35,258.48 423.26,258.92 424.21,259.2 425.15,259.09 425.22,260.12 424.98,261.06 424.2,261.84 423.53,262.66 423.71,263.72 424.19,265 423.6,265.88 422.21,266.36 421.58,267.23 421.86,268.55 421.6,269.74 420.41,270.22 419.49,270.93 419.04,272.03 418.59,272.89 417.85,273.51 417.04,274.41 417.88,274.97 419.04,275.13 419.83,275.76 420.1,277.06 420.88,277.7 422.55,277.84 422.76,278.73 421.89,279.73 421.61,280.68 422.46,281.49 423.05,282.34 422.69,283.29 422.38,284.04 422.17,285.06 422.03,286.1 421.44,286.94 420.7,287.69 420.38,288.65 420.39,289.77 419.78,290.59 418.6,291.17 418.43,292.27 418.82,293.66 417.91,294.38 416.58,294.8 416.37,295.8 416.57,297.06 416.03,297.84 414.99,298.3 414.31,299 414.07,300.01 414.54,300.85 414.68,301.76 414.62,302.73 414.66,303.67 415.11,304.52 415.79,305.3 415.91,306.61 414.77,306.82 413.74,307.12 413.39,308.12 413.35,309.42 412.72,310.14 411.49,310.24 410.3,310.76 410.32,311.93 410.45,313.14 409.9,314.08 409.33,314.82 408.4,314.62 407.41,314.71 406.43,314.8 405.52,314.51 404.38,313.94 403.56,314.54 403.26,315.78 402.67,316.65 401.29,316.59 400.19,316.86 400.01,318.21 399.77,319.25 398.73,319.49 397.62,319.66 397.14,320.46 396.91,321.46 396.32,322.22 395.44,322.77 394.81,323.5 394.48,324.32 395.35,325.02 395.72,326.2 396.57,327.07 397.9,326.76 398.75,327.46 399.26,328.85 400.46,328.81 402.1,328.63 402.22,329.82 402.25,331.08 403.26,331.58 404.3,332.05 404.68,333.01 405.23,333.94 406.09,334.49 407.08,334.9 407.87,335.54 408.37,336.53 409.02,337.31 410.31,337.55 411.38,338.03 411.6,339.44 411.91,340.34 413.05,340.9 414.13,341.48 414.22,342.56 414.01,343.78 414.45,344.68 415.33,345.36 415.87,346.07 416.54,346.82 417.16,347.63 417.93,348.24 418.91,348.57 419.89,348.9 420.51,349.71 420.9,350.84 421.77,351.46 423.05,351.11 424.1,351.2 424.61,352.37 425.18,353.44 426.28,353.43 427.49,353.22 428.28,353.83 428.91,354.79 429.74,355.2 430.76,355.55 431.6,356.14 432.18,357.03 432.84,357.83 433.92,358.13 435.07,358.81 434.57,359.95 434.57,360.99 435.31,361.88 435.4,362.9" fill="none" stroke="#1010f5" stroke-width="1.05" stroke-linejoin="round"/>
<polyline points="435.4,362.9 436.31,362.73 437.22,362.59 438.15,362.56 439.08,362.53 439.99,362.35 440.88,362.05 441.78,361.85 442.72,361.93 443.68,362.08 444.58,361.86 445.44,361.31 446.34,361.06 447.32,361.35 448.28,361.37 449.06,360.87 449.78,360.19 450.64,359.92 451.6,359.92 452.49,359.73 453.29,359.28 454.1,358.86 454.97,358.63 455.88,358.48 456.74,358.21 457.53,357.66 458.35,357.2 459.32,357.1 460.27,356.97 461.02,356.33 461.74,355.62 462.7,355.51 463.75,355.6 464.55,355.1 465.24,354.32 466.1,353.99 467.14,353.89 468.04,353.5 468.81,352.86 469.65,352.35 470.59,352.03 471.52,351.71 472.37,351.21 473.15,350.59 474.03,350.15 475.07,349.99 476.04,349.66 476.77,348.87 477.52,348.12 478.56,347.94 479.55,347.65 480.4,347.1" fill="none" stroke="#1010f5" stroke-width="1.05" stroke-linejoin="round"/>
<polyline points="435.4,362.9 434.64,363.55 433.76,364.04 432.91,364.57 432.41,365.56 431.6,366.14 430.42,366.24 429.77,367.03 429.38,368.17 428.33,368.45 427.23,368.44 426.56,369.3 425.81,369.99 424.75,370.06 423.83,370.39 423.07,371.07 422.21,371.55 421.23,371.78 420.35,372.18 419.58,372.85 418.7,373.26 417.63,373.25 416.75,373.69 416.12,374.64 415.19,374.95 414.02,374.73 413.01,375.45 413.48,376.54 413.21,377.5 412.52,378.38 412.41,379.49 413.21,380.29 413.63,381.27 413.88,382.33 414.34,383.29 415,384.28 414.39,385.1 413.47,385.66 412.71,386.35 412.42,387.43 412,388.4 410.94,388.86 410.06,389.4 409.82,390.39 409.72,391.47 409.08,392.18 408.16,392.7 407.57,393.69 408.21,394.48 408.65,395.34 408.82,396.3 409.03,397.25 409.48,398.11 410.04,398.93 410.29,399.94 409.44,400.72 409.19,401.79 409.16,402.98 408.21,403.71 407.69,404.24 406.93,405.04 406.1,405.56 405.08,405.26 404.13,405.24 403.31,405.8 402.42,406.06 401.5,406.2" fill="none" stroke="#1010f5" stroke-width="1.05" stroke-linejoin="round"/>
<polyline points="420.4,258.4 419.52,258.69 418.63,258.85 417.68,258.52 416.75,258.37 415.88,258.74 415.02,259.18 414.21,259.31 413.24,259.57 412.25,259.8 411.37,260.24 410.64,260.99 409.92,261.73 408.93,261.95 407.75,261.8 406.79,262.09 406.23,263.17 405.66,264.18 404.65,264.34 403.43,264.06 402.48,264.33 401.86,265.25 401.17,266.03 400.22,266.3 399.2,266.43 398.33,266.8 397.52,267.36 396.71,267.91 395.78,268.12 394.73,268.03 393.82,268.31 393.16,269.26 392.4,269.93 391.26,269.59 389.82,269.54 389.68,270.7 389.69,271.98 388.7,272.47 387.53,272.81 387.25,273.7 386.46,274.41 385.52,274.56 384.52,274.44 383.59,274.62 382.75,275.12 381.88,275.54 380.9,275.5 379.85,275.44 379.05,276.05 378.4,277.05 377.44,277.24 376.22,276.74 375.27,276.97 374.6,278.16 373.7,278.59 372.8,278.07 371.9,277.46 371,277.52 370.1,277.99 369.2,278.2 368.35,278.02 367.35,278.1 366.42,278.38 365.6,278.94 364.82,279.58 363.89,279.86 362.81,279.71 361.73,279.76 361.04,280.63 360.48,281.76 359.55,282.14 358.29,281.84 357.2,281.91 356.52,282.78 355.78,283.79 354.78,283.93 353.71,283.72 352.69,283.75 351.73,284.12 350.8,284.58 349.82,284.81 348.76,284.67 347.5,284.7 347.07,285.61 346.84,286.73 346.11,287.34 344.84,287.41 343.94,287.85 343.81,289.07 342.93,290.37 342.14,289.7 341.41,288.81 340.48,288.69 339.45,288.96 338.53,288.83 337.71,288.3 336.72,287.89 335.88,288.4 335.09,289.03 334.15,289.26 333.07,289.13 332.18,289.51 331.55,290.56 330.67,291.01 329.41,290.42 328.38,290.53 327.73,291.78 326.86,292.37 325.77,291.93 324.91,291.26 323.72,291.38 322.66,291.18 321.79,290.49 321.02,291.17 320.54,292.06 320.2,293.05 319.43,293.94 318.48,293.6 317.54,293.38 316.68,293.83 315.86,294.62 314.97,294.85 314,294.26 312.71,293.83 312.04,294.53 311.68,295.68 311.06,296.46 310.07,296.68 309.04,296.85 308.44,297.32 307.5,297.46 306.58,297.56 305.68,297.45 304.8,297.12 303.94,296.73 303.04,296.63 302.01,296.92 300.94,296.64 300.39,295.7 300.08,294.45 299.23,293.89 298.29,294.02 297.67,294.76 296.61,294.74 295.52,294.68 294.79,295.22 294.14,296.12 293.13,295.8 292.33,295.05 291.48,294.42 290.44,294.16 289.76,293.85 289.14,294.54 288.25,295.08 287.8,295.87 287.97,297.02 287.77,297.95 286.65,298.35 286.82,298.66 285.4,298.47 284.2,298.06 283.6,296.63 282.81,297.31 282.58,298.47 282.01,299.33 281.07,299.88 280.3,300.58 279.83,301.54 279.19,302.34 278.24,302.72 277.16,302.93 276.52,303.73 276.19,304.93 275.38,305.5 274.05,305.39 273.67,305.61 272.4,306.17 271.22,306.37 270.29,305.53 269.54,304.78 268.58,304.59 267.55,304.59 266.62,304.35 265.78,303.84 264.97,303.26 263.94,302.85 263.11,303.37 262.31,303.98 261.39,304.15 260.34,303.79 259.33,303.57 258.52,304.14 258.08,304.95 257.77,305.87 256.75,306.32 255.71,306.76 255.28,307.6 255.22,308.68 254.76,309.71 253.74,309.94 252.71,310.14 251.83,310.63 251.06,311.35 250.23,311.95 249.17,312.08 248.01,312.2 247.45,313.12 247.08,314.29 246.09,314.62 244.73,314.44 244.02,315.16 243.79,316.51 242.99,317.11 241.74,317.05 240.89,317.45 240.37,318.37 239.69,319.04 238.76,319.32 237.85,319.62 237.12,320.22 236.51,321 235.68,321.52 234.61,321.37 233.64,321.53 232.98,322.5 232.23,323.24 231.09,322.91 229.95,322.57 229.24,323.36 228.54,324.38 227.62,324.51 226.54,324.06 225.6,324.11 224.79,324.71 223.92,325.05 223,325.2" fill="none" stroke="#1010f5" stroke-width="1.05" stroke-linejoin="round"/>
<polyline points="321.8,291.3 321.93,292.2 321.99,293.12 322.57,293.92 323.1,294.74 322.77,295.75 322.47,296.74 323.05,297.55 323.79,298.21 324.03,299.21 324.02,300.33 324.57,301.18 325.32,301.93 325.74,302.84 325.97,303.84 326.35,304.66 326.34,305.61 326.31,306.56 325.94,307.42 325.33,308.23 325.1,309.12 325.4,310.14 325.5,311.19 324.77,311.94 323.88,312.63 323.61,313.56 323.8,314.66 323.66,315.64 323.03,316.43 322.4,317.4 322.89,318.28 323.54,319.07 324.08,319.93 324.42,320.88 324.65,321.88 325.06,322.8 325.81,323.57 326.36,324.36 326.44,325.29 326.18,326.33 326.27,327.26 327,328 327.77,328.73 327.91,329.64 327.65,330.68 327.75,331.65 328.47,332.43 329.12,333.23 329.39,334.21 329.57,335.21 329.99,336.12 330.6,336.94 331.06,338.02 330.19,338.61 329.39,339.25 329.12,340.3 328.8,341.32 327.77,341.75 326.6,341.8 325.94,342.88 325.13,343.66 323.88,343.57 322.9,343.9 322.1,344.64 321.19,345.04 320.16,345.1 319.19,345.33 318.34,345.81 318.33,346.77 317.99,347.68 317.52,348.57 317.53,349.54 317.88,350.46 317.9,351.48 317.33,352.57 317.43,353.59 318.25,354.52 318.38,355.54 318.15,356.59 318.3,357.6" fill="none" stroke="#1010f5" stroke-width="1.05" stroke-linejoin="round"/>
<polyline points="327.8,341.8 328.73,342.2 329.62,342.67 330.42,343.32 331.34,343.76 332.4,343.88 333.32,344.3 333.91,345.23 334.62,345.97 335.89,346.03 336.75,346.59 337,347.89 337.75,348.58 338.92,348.58 339.82,348.94 340.52,349.8 341.42,350.14 342.45,350.14 343.35,350.47 344.16,351.06 344.99,351.41 345.86,351.85 346.6,352.43 346.97,353.38 347.5,354.17 348.58,354.4 349.16,354.69 350.08,355.58 351.07,355.94 352.18,355.22 353.21,355.23 354.14,356.06 355.15,356.19 356.32,355.84 357.11,356.44 357.71,357.28 358.46,357.93 359.39,358.35 360.27,358.83 360.91,359.62 361.5,360.48 362.44,360.87 363.48,361.04 364.16,361.64 364.46,362.72 364.96,363.55 365.98,363.74 367.06,363.85 367.7,364.52 368.06,365.52 368.64,366.25 369.54,366.59 370.46,367.23 369.84,367.9 369.09,368.44 368.4,369.04 367.89,369.8 367.5,370.66 366.98,371.4 366.12,371.86 365.24,372.33 364.91,373.31 364.84,374.48 364.09,375.15 362.88,375.48 362.33,376.29 362.33,377.51 361.8,378.35 360.73,378.88 360.52,379.86 360.79,380.88 360.78,381.88 360.43,382.84 360.23,383.82 360.39,384.83 360.46,385.84 359.97,386.88 360.25,387.79 361.22,388.29 362.01,388.89 361.94,390.02 362.04,391.05 363.09,391.49 363.98,392.02 364,393.11 364.57,393.95 365.55,394.09 366.52,394.26 367.2,394.91 367.86,395.61 368.69,396 369.6,396.26 370.4,396.73 371.03,397.46 371.72,398.03 372.69,398.29 373.63,398.58 374.09,399.47 374.44,400.51 375.29,400.91 376.47,400.91 377.24,401.42 377.56,402.49 378.07,403.32 379.01,403.62 379.96,403.88 380.67,404.46 381.26,405.22 381.94,405.84 382.77,406.26 383.64,406.62 384.41,407.12 385,407.88 385.67,408.52 386.52,408.91 387.3,409.4" fill="none" stroke="#1010f5" stroke-width="1.05" stroke-linejoin="round"/>
<polyline points="326.8,420 327.7,420.09 328.72,419.3 329.65,419.16 330.37,420.67 331.14,421.84 332.08,421.61 333.17,420.71 334.37,420.88 334.96,421.78 335.38,422.9 335.97,423.8 336.9,424.3 338.16,424.44 339.24,424.73 339.74,425.58 339.61,427.05 339.54,428.47 340.35,429.02 342.02,428.73 343.52,428.39 344.28,429.07 344.23,430.72 344.32,432.21 345.16,432.79 346.45,432.83 347.56,432.99 348.36,433.47 348.95,434.28 349.47,435.2 350.09,435.97 351.04,436.21 352.32,435.93 353.48,435.85 353.39,436.76 354.87,438 356.04,438.31 356.56,436.67 356.99,434.78 358.12,434.7 359.38,435.89 360.47,436.4 361.23,435.61 361.91,434.52 362.75,434.09 363.77,434.3 364.8,434.6 365.72,434.45 366.47,433.63 367.19,432.69 368.15,432.7 369.38,433.76 370.45,434.21 370.79,432.74 372.75,432.61 373.13,433.49 372.11,435.28 371.8,436.62 373.11,436.91 374.82,437.15 375.23,438.06 374.74,439.28 374.54,440.4 375.03,441.28 375.83,441.97 376.8,442.35 377.34,443.14 377.43,444.4 377.59,445.59 378.51,446 380.15,445.7 382,447.04 381.37,447.91 379.69,448.62 378.48,449.4 378.68,450.39 379.72,451.47 380.94,451.24 381.7,451.75 382.17,452.73 382.66,453.69 384.05,454.16 384.36,453.29 384.43,452.28 384.43,451.23 384.73,450.35 385.69,449.86 387.07,449.61 387.56,449.63 387.99,448.59 387.97,446.81 388.26,445.53 389.36,445.56 390.31,446.22 389.97,447.43 390.79,448 392.17,448.27 393.11,448.79 393.3,449.7 393.2,450.79 393.3,451.76 393.84,452.49 394.69,452.92 395.85,452.87 396.54,453.75 396.86,455.34 397.7,455.92 399.36,454.88 400.76,454.36 400.73,456.04 402.49,456.95 403.14,456.19 403.02,454.29 403.47,453.21 404.75,453.4 405.43,453.63 406.38,453.99 407.58,453.86 408.64,454.01 409.38,454.77 409.93,455.92 410.74,456.55 412.06,456.06 413.23,455.25 414.06,455.75 414.57,457.49 415.19,458.83 416.23,458.52 417.52,457.2 418.63,456.53 419.41,457.22 420.06,458.51 420.82,459.32 421.76,459.34 422.79,459.01 423.79,458.8 424.83,458.95 425.56,459.67 426.15,460.7 426.81,461.57 427.86,461.68 429.27,461.06 430.56,460.7 431.22,461.57 431.39,463.41 433.4,464.73 433.96,463.86 433.99,462.22 434.25,460.91 435.14,460.54 436.39,460.7 437.48,460.65 438.25,460.14 438.81,459.29 439.34,458.38 440.04,457.74 441.08,457.66 442.34,457.94 443.27,457.7 443.5,456.34 444.23,454.85 445.13,454.72 446.23,456.19 447.3,457.43 448.14,456.81 448.83,455.06 450.31,454.31 450.86,455.6 451.39,456.95 452.4,457.17 453.6,456.95 454.53,457.34 455.4,457.9" fill="none" stroke="#1010f5" stroke-width="1.05" stroke-linejoin="round"/>
<polyline points="380,237.9 372.4,244.2 364.5,248.1 359,250.5" fill="none" stroke="#1010f5" stroke-width="1.05" stroke-linejoin="round"/>
<polyline points="367.7,280 371.6,277.3 380,275.7" fill="none" stroke="#1010f5" stroke-width="1.05" stroke-linejoin="round"/>
<use href="#ol" fill="none" stroke="#1a1a1a" stroke-width="2" stroke-linejoin="round"/>
<path d="M309.9,84.3 L313.2,85 L316.6,86.5 L318.4,88.9 L313.7,89 L310.3,87.8 Z" fill="#fff" stroke="#1a1a1a" stroke-width="1.8" stroke-linejoin="round"/>
<path d="M330.2,84.5 L329.3,81.5 L331,79 L334,77.8 L335.6,79.2 L334.6,82.5 L332.5,85 Z" fill="#1a1a1a"/>
</g>
<g id="logo">
<path d="M7,5 H19.7 L23.7,8.7 L27.1,14.2 L28.9,20.5 L29.2,26.8 L28.4,33.9 L25.2,41 L22.1,46.5 L21,50.5 V53.6 H7 Z" fill="#0050ef"/>
<path d="M56,7.9 L52.9,8.7 L48.1,11.8 L44.2,16.6 L41.8,22.1 L40.7,28.4 L37.9,33.9 L32.3,40.2 L26.8,47.3 L24,52 V53.6 H56 Z" fill="#0050ef"/>
<g fill="none" stroke="#0050ef" stroke-width="2.5">
<path d="M8.1,56.3 V70.5 M8.6,65 L20.3,56.3 M12.3,62.3 L20.8,70.5"/>
<path d="M27,70.5 V56.3 M27.3,56.6 L36.6,70 L46,56.6 M46.3,56.3 V70.5"/>
<path d="M54.8,56.3 V70.5"/>
</g></g>
</defs>
<rect width="1280" height="507" fill="#fff"/>
<!-- left map -->
<g clip-path="url(#be)" shape-rendering="crispEdges">
<rect x="0" y="60" width="560" height="447" fill="#f67b4a"/>
<polygon points="147.5,105 147.5,113.9 146.7,124.2 148.3,135.2 151.4,144.7 152.7,149.5 151.4,159 145,166.8 137.2,171.5 126.2,174.7 113.6,175 102.5,172.3 93,168 83.6,168.4 79.7,174.7 75.7,185.7 67.8,191.3 61.5,196.8 61.5,203 64.7,206.3 59.1,211 56.8,218.9 53.6,225.2 50.5,230 48.9,232.3 45,245 100,250 104,262 108.8,255.2 111.2,245.7 115.1,236.3 117.5,230 120.7,223.7 126.2,220.5 130.9,215.8 138.8,215.8 141.2,216.6 151.4,213.4 160.9,209.5 171.1,207.1 171.9,203 173.5,195.2 181.4,188.9 189.5,190.7 197.4,193.1 202.1,197.8 203.7,204.1 202.1,209.5 194,213.4 187.7,217.4 186.9,223.7 184.5,230 178.2,233.1 172.7,237.1 176.7,248.9 180,250.5 189.5,241 195.8,236.3 195.8,226.8 203.7,221.3 211.5,217.4 213.9,211.8 219.4,207.1 219.4,201 221.8,193.1 227.3,188.4 235.2,187.6 246.2,189.9 255.7,193.1 262,193.1 268.3,189.9 276.2,188.4 284.1,189.9 290.4,192.3 296.7,196.2 301.5,201 304.6,201 310.9,197 318.8,194.7 328.3,193.1 336.2,192.3 338.5,196.2 337.7,202.6 333.8,206.3 336.2,215.8 344,219.7 353.5,218.9 361.4,215 368.4,209.4 371.5,202.3 377.9,198.4 382.6,192.1 383.4,185.7 379.4,178.6 371.5,173.1 362.1,169.2 355.8,162.9 347.9,157.4 340,152.5 329.8,144.2 318.8,136.3 310.9,130 304.6,127 293.6,122.3 284.1,117.6 277.8,112.8 274.6,107.3 268.3,101 266,97.1 258,90 230,90 200,105" fill="#da372a"/>
<polygon points="229.7,226 243.1,215.8 248.6,211 251,217.4 249.4,225.2 243.1,230 235.2,235.5" fill="#da372a"/>
<polygon points="116.7,280 123,272.6 129.3,267 137.2,267.8 145.1,272.6 149.8,278.9 150.5,283.4 150,290 115,290" fill="#da372a"/>
<polygon points="141.5,195.5 144.5,199 145.2,204 143.5,209 141,214 139.5,216 137.8,212 137,206 138.5,200" fill="#f67b4a"/>
<polygon points="110,96 110.4,100.5 108.8,111.5 105.7,121 100.9,130.5 93.1,140.7 86,147.9 78.9,153.4 71,158.1 63.1,161.3 50.5,166 41,169.2 31.5,173.1 21.3,177.9 12,180 5,180 5,150 60,110 100,90" fill="#fdbf71"/>
<polygon points="416.2,177 418.5,174 422,174.5 422,189 420,189.7 416.5,187" fill="#fdbf71"/>
<polygon points="150,318 161.5,314.2 167.8,307.9 175.7,301.5 185.2,298.4 197.8,297.6 210.4,297.6 223,297.6 229.3,294.4 231.7,291.3 227.8,288.9 219.9,288.1 213.6,286.6 209.6,283.4 212,278.7 217.5,276.3 226.2,277.9 235.6,281 245.1,283.4 249.8,286.6 252.2,292.1 253,298.4 255.4,304.7 259.3,303.9 265.6,305.5 273.5,307.1 280,307.1 286.3,303.9 289.5,299.2 295.8,297.6 306.8,296 316.3,294.4 324.2,296.8 329.7,295.2 328.9,292.1 321,290.5 311.5,292.1 302.1,289.7 292.6,285.8 284.7,281 281.4,274.7 280,270 280.9,269.4 287.3,259.9 293.6,250.5 299.9,244.2 306.2,241 314.1,245 322,248.9 331.4,252.1 339.3,252.8 347.2,252.1 353.5,249.7 361.4,248.9 369.3,247.3 379.4,244.2 392.1,239.4 403.1,236.3 414.1,233.9 422,232.3 422,242.6 418.9,247.3 411,252.1 410.2,256 415.7,259.1 422,262.3 426.8,255.2 431.5,247.3 436.2,241 442.5,234.7 447.3,230 448.8,227.6 449,220 545,220 545,505 150,505" fill="#fdbf71"/>
<polygon points="364.4,272.6 371.5,270.2 382.6,271.8 383.4,274.9 371.5,275.7 365.2,274.9" fill="#f67b4a"/>
<polygon points="351.8,282.6 357.3,282.8 357.3,285 351.8,285" fill="#f67b4a"/>
<polygon points="33,137 72,116 73.3,124.2 71,132 66.2,138.4 59.9,142.3 50.5,143.9 42.6,143.1 36,142.5" fill="#feeea5"/>
<polygon points="178.9,313.4 185.2,310.2 191.5,309.4 197.8,312.6 200.9,316.5 200,322 180,322" fill="#feeea5"/>
<polygon points="215,340 234.1,329.1 241.9,329.9 245.1,333.1 251.4,334.7 259.3,334.7 267.2,331.5 270.3,325.2 278.2,322.8 286.1,322 290.9,317.3 295.6,312.6 300,311 303.7,311 310,314.2 311.5,322 313.9,329.9 316.7,336.3 321.5,342.6 326.2,344.2 329.3,339.5 330.9,336.3 332.1,333.1 331.3,323.6 332.8,314.2 336.8,308.6 343.1,304.7 349.4,301.5 354.1,296.8 358.9,292.1 366.8,290.5 374.6,290.5 380.9,285.8 388.8,282.6 396.7,277.9 401.5,273.9 407.8,273.9 413.3,278.7 414.1,285.8 417.2,290.5 422,292.1 426.7,287.4 428.3,279.5 428.3,274.9 433.1,271.8 442.5,271.8 450.4,273.3 455.1,267.8 462.2,264.7 462.2,259.9 456.7,257.6 447.3,258.4 440.2,256 440.9,252.8 450.4,248.9 458.3,245.7 461.5,239.4 469.3,239.4 478.8,237.9 479.6,233.9 475.6,228.4 476,222 545,222 545,505 215,505" fill="#feeea5"/>
<polygon points="288.3,360.8 294.6,358.4 302.5,360 307.3,355.2 310.4,350.5 316.7,346.6 317.5,353.7 315.9,356.8 308.8,363.1 304.1,367.1 299.4,364.7 293.1,363.9" fill="#fdbf71"/>
<polygon points="269.4,371 276.5,365.5 279.7,369.4 278.9,372.6" fill="#fdbf71"/>
<polygon points="215,386 225.2,386 236.3,383.6 247.3,384.4 259.9,386 271,385.2 283.6,382 294.6,378.1 298.6,376.5 305,374 305,410 215,410" fill="#eef8df"/>
<polygon points="372.3,317.9 374.9,320.5 372.3,323.1 369.7,320.5" fill="#eef8df"/>
<polygon points="362.7,328.8 366,332.5 362.7,336.2 359.4,332.5" fill="#eef8df"/>
<polygon points="497,232 493.8,237.1 491.4,242.6 486.7,248.9 482,255.2 475.6,262.3 469.3,267.8 464.6,274.1 461.4,276.3 453.5,281 445.6,287.4 437.7,293.7 429.8,298.4 423.5,302.3 420.4,307.9 417.2,315.7 412.5,323.6 407.8,330.7 401.5,336.2 393.6,341 388.9,344.7 384.2,351 381,357.4 377.9,363.7 373.1,368.4 366.8,370 355.8,370.8 345.1,369.4 334.1,367.9 325.4,370.2 318,374 310,400 310,505 545,505 545,232" fill="#eef8df"/>
<polygon points="500,240 497.7,243.4 495.4,247.3 491.4,252.1 485.1,259.1 478.8,266.2 476,270 471,277 464,283.5 457,287.4 449,290 446,294 447.3,298.4 453.6,300.8 460.7,303.1 458.4,305.5 447.3,306.3 437.9,307.1 430,309.4 426.8,314.2 423.7,320.5 418.9,326.8 412.6,333.1 406.3,337.8 403.1,343.2 398.4,347.9 395.2,354.2 390.5,360.5 385.7,366.8 383,372 376,375 367.5,376 358,377.5 348,376.5 339,376.5 329.3,376 321.5,378.9 314,385 312,400 318,419 326.3,419.4 329.4,421.8 335.7,425.7 340.5,430.5 342.1,433.6 344,440 352,444 357,452 364,456 366.2,451.5 371,453.9 378.9,457.1 385.2,459.4 393.1,461 399.4,464.9 405.7,468.1 412,469.7 419.9,468.1 426.2,465.7 430.9,461 435.6,455.5 440.4,450.8 445.1,446 449.8,440.5 452.2,436.6 460,436 545,400 545,240" fill="#bde2ee"/>
<polygon points="505,250 500.9,250.5 497.7,253.6 493,259.9 488.3,264.7 483,270.5 478.5,277 474,282.5 468.5,288 461,292.3 458,293.3 463.5,295.5 471.5,297 480.4,298.4 482.8,302.3 478.9,307.1 471,310.2 466.2,313.4 459.9,315.7 452.1,318.9 445.7,321.3 437.9,322 431.5,318.9 427,325 422,333 418.5,339.5 417.3,345 415.7,347.9 409.4,351.8 403.1,353.4 398.4,355.8 393.6,360.5 390.5,366.8 385.7,371.5 379.4,375.5 373.1,379.4 366.8,385 362.1,387.3 355.8,385.7 349.5,384.2 340.5,384.7 332.6,387.9 324.7,392.6 319.2,397.4 312,400 318,408 327.1,409.2 334.2,411.5 338.9,415.5 345.2,420.2 353.1,424.2 361,425.7 368.9,427.3 375.2,432.1 379.9,437.6 386.2,440.7 394.1,441.5 400.4,443.9 409.9,445.5 419.3,444.7 428.8,443.1 436.7,439.9 441.4,435.2 445.4,432.8 452,432 545,400 545,250" fill="#80b7d6"/>
<polygon points="508,254 503.2,254.4 504,256.8 499.3,261.5 494.6,265.5 488.3,270.5 482,276.3 477.3,283.4 483.6,288.9 489.1,293.7 491.5,300 497,305.5 502.5,311.8 501.7,316.5 494.6,318.9 486,318.9 480.4,322.8 475.7,327.6 471,335.5 466.2,333.9 461.5,332.3 453.6,330.7 445.7,329.1 437.9,326.8 431.5,330.7 426.8,336.2 422.9,341 424,346 429.9,352.5 434.6,357 442.5,358.6 450.4,357.8 454,359.2 447.3,362.1 437.8,362.9 428.3,366 418.9,369.2 411,367.6 406.2,362.1 401.5,361.3 395.2,366 390.5,372.3 386.5,379.4 385.9,387.6 383.6,394.7 378.8,400.2 372.5,406.5 370.6,409 372.5,414.8 378,418 386.2,418.4 395.7,419.2 403.6,422.6 411.5,426.5 420.9,424.9 425.6,421 430.4,416.3 436.7,412.3 443,410 452,410 545,400 545,255" fill="#4a7bb7"/>
<polygon points="489.9,333.1 496.2,327.6 504.1,326 510.4,329.1 514.5,332.5 520,332 512,345 506,352 496,358 489.8,355 486,347 486,340" fill="#80b7d6"/>
<polygon points="460.2,349.9 461.7,351.4 460.2,352.9 458.7,351.4" fill="#80b7d6"/>
<polygon points="510.4,293.7 515.9,287.4 523,287.4 528.5,292.1 529.5,300 526.2,306.3 527.8,311.8 519.9,310.2 513.6,304.7 511.2,298.4" fill="#313695"/>
<polygon points="490.3,279.8 492.8,283 490.3,286.5 487.8,283" fill="#313695"/>
<polygon points="432.3,341.8 439.4,334.7 447.3,337 456,341.8 453.6,344.9 442.6,345.7 436.3,344.1" fill="#313695"/>
<polygon points="401.5,373.1 405.5,381 403.1,390.5 397.6,381" fill="#313695"/>
<polygon points="419.7,399.1 423.6,387.3 429.9,381.8 439.4,376.3 450.4,377.1 453.6,378.6 450.4,385.7 444.1,393.6 437.8,398.4 428.3,399.9" fill="#313695"/>
<polygon points="409.6,483.1 416.7,483.9 419.9,485.5 413.6,487.8 410.4,488.6" fill="#feeea5"/>
<polygon points="423,484.7 430.9,482.3 437.2,484.7 434.1,487 427.8,486.2" fill="#feeea5"/>
<polygon points="453,483.1 459.3,479.1 463.2,479.9 460.9,483.9 456.9,485.5" fill="#feeea5"/>
<polygon points="462.5,465.7 465.6,461.8 467.2,465.7 464.8,470.5 462.5,470.5" fill="#feeea5"/>
</g>
<use href="#overlay"/>
<!-- right map -->
<g transform="translate(640,0)">
<g clip-path="url(#be)" shape-rendering="crispEdges">
<rect x="0" y="60" width="560" height="447" fill="#f57245"/>
<polygon points="20,140 100,96 100.9,103.7 99.4,111.5 97,121 93.1,130.5 88.3,138.4 83.6,143.2 75.7,149.5 66.2,154.2 58.4,155 47.3,152.6 37.9,149.5 29.2,146.3 24,148" fill="#fee79b"/>
<polygon points="274.6,60 274.6,75 276.2,83.7 277.8,93.1 280.9,102.6 284.1,112 288.8,119.9 288.8,127.8 292,132.6 296.7,134.7 304.6,138.7 312.5,143.4 320.4,148.9 328.3,153.7 336.2,159.2 340.9,163.9 345.6,169.4 351.9,175.7 356.7,182.1 361.4,186.8 356.7,191.5 353.5,194.7 355.1,199.4 356.6,209.5 355.8,217.4 352.6,225.2 348.7,231.5 347.1,239.4 348.7,247.3 352.6,252.1 360.5,253.6 366,254.4 366.8,261.5 370.8,264.7 379.4,265.5 387.3,264.7 395.2,263.1 403.1,262.3 409.4,262.3 399.9,267.8 392.1,271 387.3,274.7 380.9,278.7 374.6,280.3 369.9,284.2 365.2,288.9 358.9,292.1 357.3,301.5 354.1,307.9 354.1,314.2 356.5,320.5 354.1,325.2 346.2,328.4 338.4,329.9 333.6,333.1 334.9,336.3 334.1,341.8 326.2,344.2 319.9,342.6 313.6,336.3 310,329.9 306.8,325.2 304.4,322 309.2,315.7 313.1,309.4 315.5,303.1 314.7,300.8 310,301.5 302.1,306.3 294.2,309.4 289.5,314.2 284.5,319.7 278.2,320.5 273.5,317.3 268.8,313.4 264,315 257.7,318.1 251.4,317.3 249.8,311 249.1,301.5 248.3,292.1 245.1,292.9 238.8,295.2 231.7,293.7 234.1,288.9 236.4,282.6 230.9,276.3 224.6,271.5 216.3,269.5 208.4,268.6 200.5,270.2 194.6,274.7 188.3,279.5 178.9,281 172.6,284.2 172.6,287.4 175.7,292.1 167.8,296 162.3,299.2 155,300 155,505 545,505 545,60" fill="#fee79b"/>
<polygon points="225.7,196.2 228.9,193.1 238.4,192.3 249.4,193.9 257.3,194.7 263.6,192.3 268.3,188.4 276.2,185.2 284.1,185.2 290.4,188.4 296.7,193.1 300.7,197.8 302.2,203 304,206 306.2,207.9 310.9,201 317.2,197.8 325.1,197 331.4,196.2 335.4,196.2 336.2,198.6 328.3,200.2 325.9,203 326.7,209.5 329.8,215 325.1,218.9 322,223.7 322.7,231.5 322,239.4 315.6,241 310.9,244.2 308.5,250.5 304.6,252.1 300.7,247.3 300.7,239.4 301.5,231.5 299.9,223.7 297.5,218.9 295.1,217.4 292,222.1 285.7,225.2 277.8,227.6 269.9,226 265.2,223.7 257.3,221.3 252.6,217.4 251,211.8 247.8,209.5 243.1,212.6 239.9,216.6 230.5,218.1 222.6,217.4 222.6,214.2 227.3,211 229.7,206.3 227.3,201" fill="#fee79b"/>
<polygon points="118.3,242.6 121.5,237.9 127.8,237.1 134.1,240.2 135.6,245.7 132.5,250.5 126.2,252.8 120.7,252.8 118.3,247.3" fill="#fee79b"/>
<polygon points="302.2,272 303,272.6 306.2,267.8 310.9,263.1 317.2,262.3 319.6,266.2 323.5,269.4 331.4,269.4 337.7,266.2 339.3,261.5 339.3,255.2 347.2,255.2 355.1,256.8 356.7,263.1 355.9,269.4 353.5,274.1 347.8,276.5 337.7,276.5 327.3,277.9 322.6,281 313.9,279.5 311.5,282.6 305.2,284.2 302.9,279.5" fill="#fee79b"/>
<polygon points="343.2,186 345.6,186 345.6,189.1 343.2,189.1" fill="#fee79b"/>
<polygon points="247.5,329.9 256.2,327.6 260.9,330.7 256.2,333.1 247.5,333.1" fill="#f57245"/>
<polygon points="306.5,350.5 315.9,345 317.9,345.4 317.5,353.7 313.6,358.4 308.8,363.1" fill="#f57245"/>
<polygon points="267.8,371 274.1,365.5 280.4,360.8 288.3,359.2 296.2,356.8 300.2,359.2 299.4,363.9 291.5,365.5 283.6,365.5 281.2,371 277.3,374.2" fill="#f57245"/>
<polygon points="413.3,255.2 418.9,251.3 426,250.5 426,260.7 422,262.3 415.7,259.1" fill="#f57245"/>
<polygon points="429.9,237.1 433.1,234.7 435.9,241 433.1,247.3 428.3,247.3 428.3,242.6" fill="#f57245"/>
<polygon points="464.6,254.4 470.9,252.1 479.6,252.8 479.6,255.2 474.1,257.6 466.2,257.6" fill="#f57245"/>
<polygon points="437.8,264.7 447.3,263.9 456.7,259.9 463,259.1 463.8,266.2 458.3,269.4 453.6,272.6 449.6,275.7 447.3,269.4 443.3,266.2" fill="#f57245"/>
<polygon points="411.8,186.5 421.2,181.8 422,190.5" fill="#d1eaf2"/>
<polygon points="184.4,313.4 189.1,310.2 193.8,311.8 196.2,315.7 194.6,318.1 189.9,317.3" fill="#d1eaf2"/>
<polygon points="505,250 500.9,252.8 496.1,259.9 491.4,265.5 483.5,270.2 478.9,274.7 474.1,281 471,287.4 463.1,289.7 455.2,289.7 447.3,290.5 445,294.4 447.3,297.6 453.6,298.4 463.1,298.4 469.4,300.8 463.1,307.9 459.9,311 452.1,307.9 442.6,307.1 440.2,303.1 433.1,302.3 426.8,306.3 423.7,314.2 418.9,320.5 412.6,323.6 410.3,329.9 411.8,339.4 410.2,345.5 406.2,340.2 401.5,341 397.5,345.7 392.1,357.4 387.3,365.2 384.2,371.5 374.7,373.1 363.7,374.7 353,374.2 342,375 330.9,375.7 324.6,377.3 315,380 312,400 312,505 545,505 545,250" fill="#d1eaf2"/>
<polygon points="470.2,301.5 475.7,298.4 480.4,297.6 482,303.1 478.9,304.7 472.6,303.9" fill="#fee79b"/>
<polygon points="320,416 325.5,415.8 331,417.4 337.3,422.9 342.1,430 340.5,433.1 338,436 320,437" fill="#fee79b"/>
<polygon points="452,436 450.2,440 447.1,443.8 443.3,448.2 445.8,452 450.9,455.1 452.7,458.9 448.3,464 446.4,467.8 446.4,472.8 444.5,476.6 438.2,477.9 431.9,478.5 428.1,481.6 425,484.8 427.5,487.3 428.8,488.6 430,495 475,495 475,436" fill="#fee79b"/>
<polygon points="402.3,366 398.4,371.5 390.5,379.4 389.7,387.3 390.5,392.1 384.2,396.8 377.9,401.5 371.5,406.2 365.2,407.8 364.1,407.9 365.7,415.8 370.4,420.5 378.3,423.7 384.6,423.7 390.9,419.7 397.3,422.1 401.2,427.6 406.7,430 413,429.2 419.3,423.7 425.6,418.9 432,415 438.3,411 443.8,408.7 450,412 455,404 462,396 465,388 468,378 472,368 480,358 473.3,354.2 470.9,355.8 464.6,360.5 456.7,363.7 447.3,365.2 437.8,365.2 428.3,366.8 420.4,368.4 415.7,371.5 411,374.7 407.8,371.5" fill="#6094c5"/>
<polygon points="421.2,341.8 428.3,336.2 436.2,330.7 440.9,329.9 447.2,333.1 458.2,337 464.5,341 461.4,344.9 450.3,348.9 439.3,347.3 429.8,344.9" fill="#6094c5"/>
<polygon points="476.2,330.7 478.9,329.1 481.2,329.9 481.2,337.8 478.1,337 476.2,333.9" fill="#6094c5"/>
<polygon points="519.9,301.5 523,296.8 528.5,292.9 531,298.4 529,304.7 524.6,308.6 521.5,305.5" fill="#6094c5"/>
<polygon points="343.2,389.7 347.1,390.5 346.3,396.8 343.9,397.6" fill="#6094c5"/>
<polygon points="343.6,402.4 346.8,400 356.2,400 359.4,407.9 357.8,415.8 354.7,418.1 352.3,412.6 347.6,409.5 343.6,407.9" fill="#6094c5"/>
<polygon points="371.7,389.9 372.7,388.9 373.7,389.9 372.7,390.9" fill="#6094c5"/>
<polygon points="46.5,206.2 50.5,196.8 56.8,188.9 64.7,184.2 71,177.9 77.3,170 83.6,166 93.1,165.2 100.9,170 108.8,177.9 113.6,184.2 117.5,190.5 118,200 117.5,206.3 113.6,214.2 110.4,222.1 108.8,228.4 105.7,235.5 104.1,237.1 100,250 48,245 52,233.9 53.6,228.4 52.8,222.1 50.5,214.2" fill="#a50026"/>
<polygon points="160.9,113 160.9,115.5 157.7,121 155.4,128.9 155.4,138.4 157.7,147.8 162.5,157.3 170.3,163.7 178.2,168.4 183,169.2 189.3,166 194.2,164.7 200.5,158.4 205.2,148.9 206.8,139.5 206.8,127.8 206.8,118 180,112" fill="#a50026"/>
</g>
<use href="#overlay"/>
</g>
<!-- headers -->
<use href="#logo"/>
<use href="#logo" x="640"/>
<text x="79.3" y="30.5" font-size="14.6" font-weight="bold">Gemiddelde temperatuur</text>
<text x="78" y="52" font-size="12.95">gemiddelde mei 2020</text>
<text x="719.3" y="30.5" font-size="14.64" font-weight="bold">Afwijking van de normaalwaarde van de gemiddelde temperatuur</text>
<text x="718" y="52" font-size="12.96">gemiddelde mei 2020 in vergelijking met de maandelijkse normaalwaarde 1981-2010</text>
<!-- legends -->
<text x="615.3" y="73.8" font-size="13.8" font-weight="bold">°</text><text x="622.8" y="73.8" font-size="13.8" font-weight="bold">C</text>
<text x="1194.2" y="73.8" font-size="13.8" font-weight="bold" letter-spacing="0.35">Verschil</text>
<text x="1255.3" y="73.8" font-size="13.8" font-weight="bold">°</text><text x="1262.8" y="73.8" font-size="13.8" font-weight="bold">C</text>
<rect x="563" y="96.00" width="26" height="39.90" fill="#a50026" shape-rendering="crispEdges"/>
<rect x="563" y="135.60" width="26" height="39.90" fill="#da372a" shape-rendering="crispEdges"/>
<rect x="563" y="175.20" width="26" height="39.90" fill="#f67b4a" shape-rendering="crispEdges"/>
<rect x="563" y="214.80" width="26" height="39.90" fill="#fdbf71" shape-rendering="crispEdges"/>
<rect x="563" y="254.40" width="26" height="39.90" fill="#feeea5" shape-rendering="crispEdges"/>
<rect x="563" y="294.00" width="26" height="39.90" fill="#eef8df" shape-rendering="crispEdges"/>
<rect x="563" y="333.60" width="26" height="39.90" fill="#bde2ee" shape-rendering="crispEdges"/>
<rect x="563" y="373.20" width="26" height="39.90" fill="#80b7d6" shape-rendering="crispEdges"/>
<rect x="563" y="412.80" width="26" height="39.90" fill="#4a7bb7" shape-rendering="crispEdges"/>
<rect x="563" y="452.40" width="26" height="39.90" fill="#313695" shape-rendering="crispEdges"/>
<text x="601.8" y="100.60" font-size="13.4">15</text>
<text x="601.8" y="140.20" font-size="13.4">14.5</text>
<text x="601.8" y="179.80" font-size="13.4">14</text>
<text x="601.8" y="219.40" font-size="13.4">13.5</text>
<text x="601.8" y="259.00" font-size="13.4">13</text>
<text x="601.8" y="298.60" font-size="13.4">12.5</text>
<text x="601.8" y="338.20" font-size="13.4">12</text>
<text x="601.8" y="377.80" font-size="13.4">11.5</text>
<text x="601.8" y="417.40" font-size="13.4">11</text>
<text x="601.8" y="457.00" font-size="13.4">10.5</text>
<text x="601.8" y="496.60" font-size="13.4">10</text>
<rect x="1203" y="96.00" width="26" height="79.50" fill="#a50026" shape-rendering="crispEdges"/>
<rect x="1203" y="175.20" width="26" height="79.50" fill="#f57245" shape-rendering="crispEdges"/>
<rect x="1203" y="254.40" width="26" height="79.50" fill="#fee79b" shape-rendering="crispEdges"/>
<rect x="1203" y="333.60" width="26" height="79.50" fill="#d1eaf2" shape-rendering="crispEdges"/>
<rect x="1203" y="412.80" width="26" height="79.50" fill="#6094c5" shape-rendering="crispEdges"/>
<text x="1241.8" y="100.60" font-size="13.4">1.5</text>
<text x="1241.8" y="179.80" font-size="13.4">1</text>
<text x="1241.8" y="259.00" font-size="13.4">0.5</text>
<text x="1241.8" y="338.20" font-size="13.4">0</text>
<text x="1241.8" y="417.40" font-size="13.4">-0.5</text>
<text x="1241.8" y="496.60" font-size="13.4">-1</text>
</svg>
</body></html>
